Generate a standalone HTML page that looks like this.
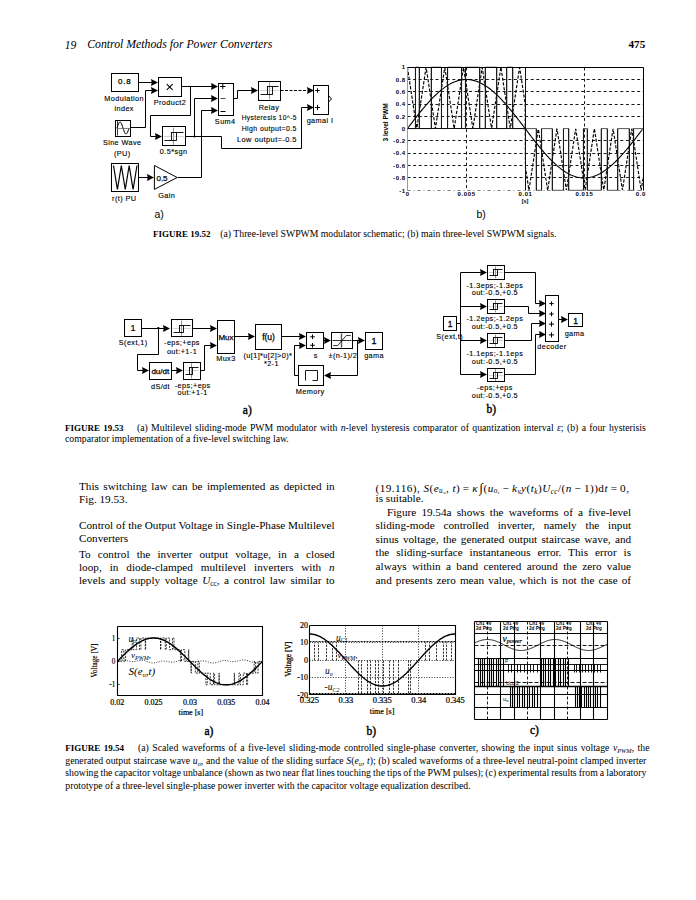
<!DOCTYPE html>
<html><head><meta charset="utf-8"><style>
html,body{margin:0;padding:0;background:#fff;}
body{width:696px;height:900px;position:relative;overflow:hidden;}
.t{position:absolute;white-space:nowrap;line-height:1;color:#000;}
.t sub{font-size:0.65em;vertical-align:-0.25em;line-height:0;}
svg{position:absolute;left:0;top:0;}
</style></head><body>
<svg width="696" height="900" viewBox="0 0 696 900">
<rect x="111.5" y="73.5" width="27" height="18" fill="none" stroke="#000" stroke-width="1"/>
<text x="124.7" y="83.8" font-size="8" text-anchor="middle" font-family='"Liberation Sans", sans-serif' font-weight="normal" stroke="#000" stroke-width="0.25" letter-spacing="0.8" style="">0.8</text>
<rect x="158.5" y="77.5" width="23" height="19" fill="none" stroke="#000" stroke-width="1"/>
<path d="M166.8 84.2 L172.6 89.8" fill="none" stroke="#000" stroke-width="1.1" />
<path d="M172.6 84.2 L166.8 89.8" fill="none" stroke="#000" stroke-width="1.1" />
<rect x="115.5" y="120.5" width="15" height="16" fill="none" stroke="#000" stroke-width="1"/>
<path d="M117 128 L117.5 126.45 L118 125 L118.5 123.76 L119 122.8 L119.5 122.2 L120 122 L120.5 122.2 L121 122.8 L121.5 123.76 L122 125 L122.5 126.45 L123 128 L123.5 129.55 L124 131 L124.5 132.24 L125 133.2 L125.5 133.8 L126 134 L126.5 133.8 L127 133.2 L127.5 132.24 L128 131 L128.5 129.55 L129 128" fill="none" stroke="#000" stroke-width="1" />
<path d="M117.5 120.5 L117.5 135.5" fill="none" stroke="#000" stroke-width="0.8" />
<path d="M116.5 128.5 L130.5 128.5" fill="none" stroke="#666" stroke-width="0.8" />
<rect x="162.5" y="126.5" width="23" height="19" fill="none" stroke="#000" stroke-width="1"/>
<path d="M173.5 127.6 L173.5 144.9" fill="none" stroke="#777" stroke-width="0.8" />
<path d="M163.7 136.5 L184.1 136.5" fill="none" stroke="#bbb" stroke-width="0.6" />
<rect x="171.5" y="132.5" width="5" height="8" fill="none" stroke="#000" stroke-width="0.9"/>
<path d="M176.5 132.5 L183.5 132.5" fill="none" stroke="#000" stroke-width="0.9" />
<path d="M164.5 140.5 L171.5 140.5" fill="none" stroke="#000" stroke-width="0.9" />
<rect x="111.5" y="163.5" width="27" height="28" fill="none" stroke="#000" stroke-width="1"/>
<path d="M113.5 165.5 L117.42 189.5 L121.33 165.5 L125.25 189.5 L129.17 165.5 L133.08 189.5 L137 165.5" fill="none" stroke="#000" stroke-width="1.2" />
<path d="M154.4 165.5 L154.4 189.4 L177.2 177.5 Z" fill="none" stroke="#000" stroke-width="1"/>
<text x="162" y="180.5" font-size="8" text-anchor="middle" font-family='"Liberation Sans", sans-serif' font-weight="normal" stroke="#000" stroke-width="0.25" style="">0.5</text>
<rect x="218.5" y="83.5" width="15" height="32" fill="none" stroke="#000" stroke-width="1"/>
<path d="M220.2 86.5 L225.4 86.5" fill="none" stroke="#000" stroke-width="1" />
<path d="M222.8 83.9 L222.8 89.1" fill="none" stroke="#000" stroke-width="1" />
<path d="M220.5 98.5 L225.5 98.5" fill="none" stroke="#555" stroke-width="1.1" />
<path d="M220.5 111.5 L225.5 111.5" fill="none" stroke="#000" stroke-width="1" />
<rect x="258.5" y="81.5" width="22" height="19" fill="none" stroke="#000" stroke-width="1"/>
<path d="M269.5 82.3 L269.5 99.4" fill="none" stroke="#777" stroke-width="0.8" />
<path d="M259.5 90.5 L279.3 90.5" fill="none" stroke="#bbb" stroke-width="0.6" />
<rect x="267.5" y="86.5" width="5" height="8" fill="none" stroke="#000" stroke-width="0.9"/>
<path d="M272.5 86.5 L278.5 86.5" fill="none" stroke="#000" stroke-width="0.9" />
<path d="M260.5 94.5 L267.5 94.5" fill="none" stroke="#000" stroke-width="0.9" />
<rect x="313.5" y="85.5" width="15" height="29" fill="none" stroke="#000" stroke-width="1"/>
<path d="M315.3 90.5 L319.7 90.5" fill="none" stroke="#000" stroke-width="1" />
<path d="M317.5 88.3 L317.5 92.7" fill="none" stroke="#000" stroke-width="1" />
<path d="M314.9 107.5 L320.1 107.5" fill="none" stroke="#000" stroke-width="1" />
<path d="M317.5 104.9 L317.5 110.1" fill="none" stroke="#000" stroke-width="1" />
<path d="M328.5 95.5 L331.5 99 L328.5 102" fill="none" stroke="#000" stroke-width="1"/>
<path d="M138.5 82.5 L153.5 82.5" fill="none" stroke="#000" stroke-width="1" />
<path d="M158 82.5 L151 79 L151.7 82.5 L151 86 Z" fill="#000"/>
<path d="M130.5 127.5 L145.5 127.5 L145.5 90.5 L153.5 90.5" fill="none" stroke="#000" stroke-width="1" />
<path d="M158 90.5 L151 87 L151.7 90.5 L151 94 Z" fill="#000"/>
<path d="M181.5 86.5 L213.5 86.5" fill="none" stroke="#000" stroke-width="1" />
<path d="M218 86.5 L211 83 L211.7 86.5 L211 90 Z" fill="#000"/>
<path d="M190.5 86.5 L190.5 115.5 L150.5 115.5 L150.5 136.5 L157.5 136.5" fill="none" stroke="#000" stroke-width="1" />
<path d="M162 136.5 L155 133 L155.7 136.5 L155 140 Z" fill="#000"/>
<path d="M185.5 136.5 L221.5 136.5 L221.5 148.5 L301.5 148.5 L301.5 107.5 L308.5 107.5" fill="none" stroke="#000" stroke-width="1" />
<path d="M314 107.5 L307 104 L307.7 107.5 L307 111 Z" fill="#000"/>
<path d="M194.5 136.5 L194.5 98.5 L213.5 98.5" fill="none" stroke="#000" stroke-width="1" />
<path d="M218 98.5 L211 95 L211.7 98.5 L211 102 Z" fill="#000"/>
<circle cx="194.5" cy="136.5" r="1.1" fill="#000"/>
<path d="M177.5 177.5 L201.5 177.5 L201.5 110.5 L213.5 110.5" fill="none" stroke="#000" stroke-width="1" />
<path d="M218 110.5 L211 107 L211.7 110.5 L211 114 Z" fill="#000"/>
<path d="M138.5 177.5 L149.5 177.5" fill="none" stroke="#000" stroke-width="1" />
<path d="M154 177.5 L147 174 L147.7 177.5 L147 181 Z" fill="#000"/>
<path d="M233.5 98.5 L237.5 98.5 L237.5 90.5 L253.5 90.5" fill="none" stroke="#000" stroke-width="1" />
<path d="M258 90.5 L251 87 L251.7 90.5 L251 94 Z" fill="#000"/>
<path d="M280.5 90.5 L308.5 90.5" fill="none" stroke="#000" stroke-width="1" stroke-dasharray="3 1.5" />
<path d="M314 90.5 L307 87 L307.7 90.5 L307 94 Z" fill="#000"/>
<text x="124.2" y="100.5" font-size="7.3" text-anchor="middle" font-family='"Liberation Sans", sans-serif' font-weight="normal"  letter-spacing="0.4" stroke="#000" stroke-width="0.12" style="">Modulation</text>
<text x="124.2" y="110.8" font-size="7.3" text-anchor="middle" font-family='"Liberation Sans", sans-serif' font-weight="normal"  letter-spacing="0.4" stroke="#000" stroke-width="0.12" style="">index</text>
<text x="169.9" y="105.2" font-size="7.3" text-anchor="middle" font-family='"Liberation Sans", sans-serif' font-weight="normal"  letter-spacing="0.4" stroke="#000" stroke-width="0.12" style="">Product2</text>
<text x="122.2" y="145" font-size="7.3" text-anchor="middle" font-family='"Liberation Sans", sans-serif' font-weight="normal"  letter-spacing="0.4" stroke="#000" stroke-width="0.12" style="">Sine Wave</text>
<text x="122.2" y="155.8" font-size="7.3" text-anchor="middle" font-family='"Liberation Sans", sans-serif' font-weight="normal"  letter-spacing="0.4" stroke="#000" stroke-width="0.12" style="">(PU)</text>
<text x="173.6" y="154.3" font-size="7.3" text-anchor="middle" font-family='"Liberation Sans", sans-serif' font-weight="normal"  letter-spacing="0.4" stroke="#000" stroke-width="0.12" style="">0.5*sgn</text>
<text x="124.2" y="201" font-size="7.3" text-anchor="middle" font-family='"Liberation Sans", sans-serif' font-weight="normal"  letter-spacing="0.4" stroke="#000" stroke-width="0.12" style="">r(t) PU</text>
<text x="166.7" y="198.2" font-size="7.3" text-anchor="middle" font-family='"Liberation Sans", sans-serif' font-weight="normal"  letter-spacing="0.4" stroke="#000" stroke-width="0.12" style="">Gain</text>
<text x="225.2" y="124.4" font-size="7.3" text-anchor="middle" font-family='"Liberation Sans", sans-serif' font-weight="normal"  letter-spacing="0.4" stroke="#000" stroke-width="0.12" style="">Sum4</text>
<text x="269" y="109.8" font-size="7.3" text-anchor="middle" font-family='"Liberation Sans", sans-serif' font-weight="normal"  letter-spacing="0.4" stroke="#000" stroke-width="0.12" style="">Relay</text>
<text x="241.7" y="120.2" font-size="7.3" text-anchor="start" font-family='"Liberation Sans", sans-serif' font-weight="normal" textLength="55.2" lengthAdjust="spacingAndGlyphs" letter-spacing="0.4" stroke="#000" stroke-width="0.12" style="">Hysteresis 10^-5</text>
<text x="241.7" y="131.3" font-size="7.3" text-anchor="start" font-family='"Liberation Sans", sans-serif' font-weight="normal" textLength="55.2" lengthAdjust="spacingAndGlyphs" letter-spacing="0.4" stroke="#000" stroke-width="0.12" style="">High output=0.5</text>
<text x="237" y="142" font-size="7.3" text-anchor="start" font-family='"Liberation Sans", sans-serif' font-weight="normal" textLength="59.9" lengthAdjust="spacingAndGlyphs" letter-spacing="0.4" stroke="#000" stroke-width="0.12" style="">Low output=-0.5</text>
<text x="320" y="122.9" font-size="7.3" text-anchor="middle" font-family='"Liberation Sans", sans-serif' font-weight="normal"  letter-spacing="0.4" stroke="#000" stroke-width="0.12" style="">gamal I</text>
<text x="154.5" y="217.8" font-size="10.5" text-anchor="start" font-family='"Liberation Sans", sans-serif' font-weight="normal"  style="">a)</text>
<path d="M407.5 79.5 L643.5 79.5" fill="none" stroke="#000" stroke-width="0.9" stroke-dasharray="3 2.6" />
<path d="M407.5 91.5 L643.5 91.5" fill="none" stroke="#000" stroke-width="0.9" stroke-dasharray="3 2.6" />
<path d="M407.5 104.5 L643.5 104.5" fill="none" stroke="#000" stroke-width="0.9" stroke-dasharray="3 2.6" />
<path d="M407.5 116.5 L643.5 116.5" fill="none" stroke="#000" stroke-width="0.9" stroke-dasharray="3 2.6" />
<path d="M407.5 140.5 L643.5 140.5" fill="none" stroke="#000" stroke-width="0.9" stroke-dasharray="3 2.6" />
<path d="M407.5 153.5 L643.5 153.5" fill="none" stroke="#000" stroke-width="0.9" stroke-dasharray="3 2.6" />
<path d="M407.5 165.5 L643.5 165.5" fill="none" stroke="#000" stroke-width="0.9" stroke-dasharray="3 2.6" />
<path d="M407.5 177.5 L643.5 177.5" fill="none" stroke="#000" stroke-width="0.9" stroke-dasharray="3 2.6" />
<path d="M466.5 67.5 L466.5 190.5" fill="none" stroke="#000" stroke-width="0.9" stroke-dasharray="3 2.6" />
<path d="M525.5 67.5 L525.5 190.5" fill="none" stroke="#000" stroke-width="0.9" stroke-dasharray="3 2.6" />
<path d="M584.5 67.5 L584.5 190.5" fill="none" stroke="#000" stroke-width="0.9" stroke-dasharray="3 2.6" />
<path d="M407.4 67.2 L407.65 68.84 L407.9 70.48 L408.15 72.13 L408.4 73.77 L408.65 75.41 L408.9 77.05 L409.15 78.69 L409.4 80.33 L409.65 81.98 L409.9 83.62 L410.15 85.26 L410.4 86.9 L410.65 88.54 L410.9 90.18 L411.15 91.83 L411.4 93.47 L411.65 95.11 L411.9 96.75 L412.15 98.39 L412.4 100.03 L412.65 101.68 L412.9 103.32 L413.15 104.96 L413.4 106.6 L413.65 108.24 L413.9 109.88 L414.15 111.53 L414.4 113.17 L414.65 114.81 L414.9 116.45 L415.15 118.09 L415.4 119.73 L415.65 121.38 L415.9 123.02 L416.15 124.66 L416.4 126.3 L416.65 127.94 L416.9 127.61 L417.15 125.97 L417.4 124.33 L417.65 122.69 L417.9 121.05 L418.15 119.41 L418.4 117.76 L418.65 116.12 L418.9 114.48 L419.15 112.84 L419.4 111.2 L419.65 109.56 L419.9 107.91 L420.15 106.27 L420.4 104.63 L420.65 102.99 L420.9 101.35 L421.15 99.71 L421.4 98.06 L421.65 96.42 L421.9 94.78 L422.15 93.14 L422.4 91.5 L422.65 89.86 L422.9 88.21 L423.15 86.57 L423.4 84.93 L423.65 83.29 L423.9 81.65 L424.15 80.01 L424.4 78.36 L424.65 76.72 L424.9 75.08 L425.15 73.44 L425.4 71.8 L425.65 70.16 L425.9 68.51 L426.15 67.53 L426.4 69.17 L426.65 70.81 L426.9 72.45 L427.15 74.1 L427.4 75.74 L427.65 77.38 L427.9 79.02 L428.15 80.66 L428.4 82.3 L428.65 83.95 L428.9 85.59 L429.15 87.23 L429.4 88.87 L429.65 90.51 L429.9 92.15 L430.15 93.8 L430.4 95.44 L430.65 97.08 L430.9 98.72 L431.15 100.36 L431.4 102 L431.65 103.65 L431.9 105.29 L432.15 106.93 L432.4 108.57 L432.65 110.21 L432.9 111.85 L433.15 113.5 L433.4 115.14 L433.65 116.78 L433.9 118.42 L434.15 120.06 L434.4 121.7 L434.65 123.35 L434.9 124.99 L435.15 126.63 L435.4 128.27 L435.65 127.29 L435.9 125.64 L436.15 124 L436.4 122.36 L436.65 120.72 L436.9 119.08 L437.15 117.44 L437.4 115.79 L437.65 114.15 L437.9 112.51 L438.15 110.87 L438.4 109.23 L438.65 107.59 L438.9 105.94 L439.15 104.3 L439.4 102.66 L439.65 101.02 L439.9 99.38 L440.15 97.74 L440.4 96.09 L440.65 94.45 L440.9 92.81 L441.15 91.17 L441.4 89.53 L441.65 87.89 L441.9 86.24 L442.15 84.6 L442.4 82.96 L442.65 81.32 L442.9 79.68 L443.15 78.04 L443.4 76.39 L443.65 74.75 L443.9 73.11 L444.15 71.47 L444.4 69.83 L444.65 68.19 L444.9 67.86 L445.15 69.5 L445.4 71.14 L445.65 72.78 L445.9 74.42 L446.15 76.07 L446.4 77.71 L446.65 79.35 L446.9 80.99 L447.15 82.63 L447.4 84.27 L447.65 85.92 L447.9 87.56 L448.15 89.2 L448.4 90.84 L448.65 92.48 L448.9 94.12 L449.15 95.77 L449.4 97.41 L449.65 99.05 L449.9 100.69 L450.15 102.33 L450.4 103.97 L450.65 105.62 L450.9 107.26 L451.15 108.9 L451.4 110.54 L451.65 112.18 L451.9 113.82 L452.15 115.47 L452.4 117.11 L452.65 118.75 L452.9 120.39 L453.15 122.03 L453.4 123.67 L453.65 125.32 L453.9 126.96 L454.15 128.6 L454.4 126.96 L454.65 125.32 L454.9 123.67 L455.15 122.03 L455.4 120.39 L455.65 118.75 L455.9 117.11 L456.15 115.47 L456.4 113.82 L456.65 112.18 L456.9 110.54 L457.15 108.9 L457.4 107.26 L457.65 105.62 L457.9 103.97 L458.15 102.33 L458.4 100.69 L458.65 99.05 L458.9 97.41 L459.15 95.77 L459.4 94.12 L459.65 92.48 L459.9 90.84 L460.15 89.2 L460.4 87.56 L460.65 85.92 L460.9 84.27 L461.15 82.63 L461.4 80.99 L461.65 79.35 L461.9 77.71 L462.15 76.07 L462.4 74.42 L462.65 72.78 L462.9 71.14 L463.15 69.5 L463.4 67.86 L463.65 68.19 L463.9 69.83 L464.15 71.47 L464.4 73.11 L464.65 74.75 L464.9 76.39 L465.15 78.04 L465.4 79.68 L465.65 81.32 L465.9 82.96 L466.15 84.6 L466.4 86.24 L466.65 87.89 L466.9 89.53 L467.15 91.17 L467.4 92.81 L467.65 94.45 L467.9 96.09 L468.15 97.74 L468.4 99.38 L468.65 101.02 L468.9 102.66 L469.15 104.3 L469.4 105.94 L469.65 107.59 L469.9 109.23 L470.15 110.87 L470.4 112.51 L470.65 114.15 L470.9 115.79 L471.15 117.44 L471.4 119.08 L471.65 120.72 L471.9 122.36 L472.15 124 L472.4 125.64 L472.65 127.29 L472.9 128.27 L473.15 126.63 L473.4 124.99 L473.65 123.35 L473.9 121.7 L474.15 120.06 L474.4 118.42 L474.65 116.78 L474.9 115.14 L475.15 113.5 L475.4 111.85 L475.65 110.21 L475.9 108.57 L476.15 106.93 L476.4 105.29 L476.65 103.65 L476.9 102 L477.15 100.36 L477.4 98.72 L477.65 97.08 L477.9 95.44 L478.15 93.8 L478.4 92.15 L478.65 90.51 L478.9 88.87 L479.15 87.23 L479.4 85.59 L479.65 83.95 L479.9 82.3 L480.15 80.66 L480.4 79.02 L480.65 77.38 L480.9 75.74 L481.15 74.1 L481.4 72.45 L481.65 70.81 L481.9 69.17 L482.15 67.53 L482.4 68.51 L482.65 70.16 L482.9 71.8 L483.15 73.44 L483.4 75.08 L483.65 76.72 L483.9 78.36 L484.15 80.01 L484.4 81.65 L484.65 83.29 L484.9 84.93 L485.15 86.57 L485.4 88.21 L485.65 89.86 L485.9 91.5 L486.15 93.14 L486.4 94.78 L486.65 96.42 L486.9 98.06 L487.15 99.71 L487.4 101.35 L487.65 102.99 L487.9 104.63 L488.15 106.27 L488.4 107.91 L488.65 109.56 L488.9 111.2 L489.15 112.84 L489.4 114.48 L489.65 116.12 L489.9 117.76 L490.15 119.41 L490.4 121.05 L490.65 122.69 L490.9 124.33 L491.15 125.97 L491.4 127.61 L491.65 127.94 L491.9 126.3 L492.15 124.66 L492.4 123.02 L492.65 121.38 L492.9 119.73 L493.15 118.09 L493.4 116.45 L493.65 114.81 L493.9 113.17 L494.15 111.53 L494.4 109.88 L494.65 108.24 L494.9 106.6 L495.15 104.96 L495.4 103.32 L495.65 101.68 L495.9 100.03 L496.15 98.39 L496.4 96.75 L496.65 95.11 L496.9 93.47 L497.15 91.83 L497.4 90.18 L497.65 88.54 L497.9 86.9 L498.15 85.26 L498.4 83.62 L498.65 81.98 L498.9 80.33 L499.15 78.69 L499.4 77.05 L499.65 75.41 L499.9 73.77 L500.15 72.13 L500.4 70.48 L500.65 68.84 L500.9 67.2 L501.15 68.84 L501.4 70.48 L501.65 72.13 L501.9 73.77 L502.15 75.41 L502.4 77.05 L502.65 78.69 L502.9 80.33 L503.15 81.98 L503.4 83.62 L503.65 85.26 L503.9 86.9 L504.15 88.54 L504.4 90.18 L504.65 91.83 L504.9 93.47 L505.15 95.11 L505.4 96.75 L505.65 98.39 L505.9 100.03 L506.15 101.68 L506.4 103.32 L506.65 104.96 L506.9 106.6 L507.15 108.24 L507.4 109.88 L507.65 111.53 L507.9 113.17 L508.15 114.81 L508.4 116.45 L508.65 118.09 L508.9 119.73 L509.15 121.38 L509.4 123.02 L509.65 124.66 L509.9 126.3 L510.15 127.94 L510.4 127.61 L510.65 125.97 L510.9 124.33 L511.15 122.69 L511.4 121.05 L511.65 119.41 L511.9 117.76 L512.15 116.12 L512.4 114.48 L512.65 112.84 L512.9 111.2 L513.15 109.56 L513.4 107.91 L513.65 106.27 L513.9 104.63 L514.15 102.99 L514.4 101.35 L514.65 99.71 L514.9 98.06 L515.15 96.42 L515.4 94.78 L515.65 93.14 L515.9 91.5 L516.15 89.86 L516.4 88.21 L516.65 86.57 L516.9 84.93 L517.15 83.29 L517.4 81.65 L517.65 80.01 L517.9 78.36 L518.15 76.72 L518.4 75.08 L518.65 73.44 L518.9 71.8 L519.15 70.16 L519.4 68.51 L519.65 67.53 L519.9 69.17 L520.15 70.81 L520.4 72.45 L520.65 74.1 L520.9 75.74 L521.15 77.38 L521.4 79.02 L521.65 80.66 L521.9 82.3 L522.15 83.95 L522.4 85.59 L522.65 87.23 L522.9 88.87 L523.15 90.51 L523.4 92.15 L523.65 93.8 L523.9 95.44 L524.15 97.08 L524.4 98.72 L524.65 100.36 L524.9 102 L525.15 103.65 L525.4 166.87 L525.65 168.52 L525.9 170.17 L526.15 171.82 L526.4 173.47 L526.65 175.12 L526.9 176.77 L527.15 178.42 L527.4 180.07 L527.65 181.72 L527.9 183.37 L528.15 185.02 L528.4 186.67 L528.65 188.32 L528.9 189.97 L529.15 188.98 L529.4 187.33 L529.65 185.68 L529.9 184.03 L530.15 182.38 L530.4 180.73 L530.65 179.08 L530.9 177.43 L531.15 175.78 L531.4 174.13 L531.65 172.48 L531.9 170.83 L532.15 169.18 L532.4 167.53 L532.65 165.88 L532.9 164.23 L533.15 162.58 L533.4 160.93 L533.65 159.29 L533.9 157.64 L534.15 155.99 L534.4 154.34 L534.65 152.69 L534.9 151.04 L535.15 149.39 L535.4 147.74 L535.65 146.09 L535.9 144.44 L536.15 142.79 L536.4 141.14 L536.65 139.49 L536.9 137.84 L537.15 136.19 L537.4 134.54 L537.65 132.89 L537.9 131.24 L538.15 129.59 L538.4 129.26 L538.65 130.91 L538.9 132.56 L539.15 134.21 L539.4 135.86 L539.65 137.51 L539.9 139.16 L540.15 140.81 L540.4 142.46 L540.65 144.11 L540.9 145.76 L541.15 147.41 L541.4 149.06 L541.65 150.71 L541.9 152.36 L542.15 154.01 L542.4 155.66 L542.65 157.31 L542.9 158.96 L543.15 160.6 L543.4 162.25 L543.65 163.9 L543.9 165.55 L544.15 167.2 L544.4 168.85 L544.65 170.5 L544.9 172.15 L545.15 173.8 L545.4 175.45 L545.65 177.1 L545.9 178.75 L546.15 180.4 L546.4 182.05 L546.65 183.7 L546.9 185.35 L547.15 187 L547.4 188.65 L547.65 190.3 L547.9 188.65 L548.15 187 L548.4 185.35 L548.65 183.7 L548.9 182.05 L549.15 180.4 L549.4 178.75 L549.65 177.1 L549.9 175.45 L550.15 173.8 L550.4 172.15 L550.65 170.5 L550.9 168.85 L551.15 167.2 L551.4 165.55 L551.65 163.9 L551.9 162.25 L552.15 160.6 L552.4 158.96 L552.65 157.31 L552.9 155.66 L553.15 154.01 L553.4 152.36 L553.65 150.71 L553.9 149.06 L554.15 147.41 L554.4 145.76 L554.65 144.11 L554.9 142.46 L555.15 140.81 L555.4 139.16 L555.65 137.51 L555.9 135.86 L556.15 134.21 L556.4 132.56 L556.65 130.91 L556.9 129.26 L557.15 129.59 L557.4 131.24 L557.65 132.89 L557.9 134.54 L558.15 136.19 L558.4 137.84 L558.65 139.49 L558.9 141.14 L559.15 142.79 L559.4 144.44 L559.65 146.09 L559.9 147.74 L560.15 149.39 L560.4 151.04 L560.65 152.69 L560.9 154.34 L561.15 155.99 L561.4 157.64 L561.65 159.29 L561.9 160.93 L562.15 162.58 L562.4 164.23 L562.65 165.88 L562.9 167.53 L563.15 169.18 L563.4 170.83 L563.65 172.48 L563.9 174.13 L564.15 175.78 L564.4 177.43 L564.65 179.08 L564.9 180.73 L565.15 182.38 L565.4 184.03 L565.65 185.68 L565.9 187.33 L566.15 188.98 L566.4 189.97 L566.65 188.32 L566.9 186.67 L567.15 185.02 L567.4 183.37 L567.65 181.72 L567.9 180.07 L568.15 178.42 L568.4 176.77 L568.65 175.12 L568.9 173.47 L569.15 171.82 L569.4 170.17 L569.65 168.52 L569.9 166.87 L570.15 165.22 L570.4 163.57 L570.65 161.92 L570.9 160.27 L571.15 158.63 L571.4 156.98 L571.65 155.33 L571.9 153.68 L572.15 152.03 L572.4 150.38 L572.65 148.73 L572.9 147.08 L573.15 145.43 L573.4 143.78 L573.65 142.13 L573.9 140.48 L574.15 138.83 L574.4 137.18 L574.65 135.53 L574.9 133.88 L575.15 132.23 L575.4 130.58 L575.65 128.93 L575.9 129.92 L576.15 131.57 L576.4 133.22 L576.65 134.87 L576.9 136.52 L577.15 138.17 L577.4 139.82 L577.65 141.47 L577.9 143.12 L578.15 144.77 L578.4 146.42 L578.65 148.07 L578.9 149.72 L579.15 151.37 L579.4 153.02 L579.65 154.67 L579.9 156.32 L580.15 157.97 L580.4 159.61 L580.65 161.26 L580.9 162.91 L581.15 164.56 L581.4 166.21 L581.65 167.86 L581.9 169.51 L582.15 171.16 L582.4 172.81 L582.65 174.46 L582.9 176.11 L583.15 177.76 L583.4 179.41 L583.65 181.06 L583.9 182.71 L584.15 184.36 L584.4 186.01 L584.65 187.66 L584.9 189.31 L585.15 189.64 L585.4 187.99 L585.65 186.34 L585.9 184.69 L586.15 183.04 L586.4 181.39 L586.65 179.74 L586.9 178.09 L587.15 176.44 L587.4 174.79 L587.65 173.14 L587.9 171.49 L588.15 169.84 L588.4 168.19 L588.65 166.54 L588.9 164.89 L589.15 163.24 L589.4 161.59 L589.65 159.94 L589.9 158.3 L590.15 156.65 L590.4 155 L590.65 153.35 L590.9 151.7 L591.15 150.05 L591.4 148.4 L591.65 146.75 L591.9 145.1 L592.15 143.45 L592.4 141.8 L592.65 140.15 L592.9 138.5 L593.15 136.85 L593.4 135.2 L593.65 133.55 L593.9 131.9 L594.15 130.25 L594.4 128.6 L594.65 130.25 L594.9 131.9 L595.15 133.55 L595.4 135.2 L595.65 136.85 L595.9 138.5 L596.15 140.15 L596.4 141.8 L596.65 143.45 L596.9 145.1 L597.15 146.75 L597.4 148.4 L597.65 150.05 L597.9 151.7 L598.15 153.35 L598.4 155 L598.65 156.65 L598.9 158.3 L599.15 159.94 L599.4 161.59 L599.65 163.24 L599.9 164.89 L600.15 166.54 L600.4 168.19 L600.65 169.84 L600.9 171.49 L601.15 173.14 L601.4 174.79 L601.65 176.44 L601.9 178.09 L602.15 179.74 L602.4 181.39 L602.65 183.04 L602.9 184.69 L603.15 186.34 L603.4 187.99 L603.65 189.64 L603.9 189.31 L604.15 187.66 L604.4 186.01 L604.65 184.36 L604.9 182.71 L605.15 181.06 L605.4 179.41 L605.65 177.76 L605.9 176.11 L606.15 174.46 L606.4 172.81 L606.65 171.16 L606.9 169.51 L607.15 167.86 L607.4 166.21 L607.65 164.56 L607.9 162.91 L608.15 161.26 L608.4 159.61 L608.65 157.97 L608.9 156.32 L609.15 154.67 L609.4 153.02 L609.65 151.37 L609.9 149.72 L610.15 148.07 L610.4 146.42 L610.65 144.77 L610.9 143.12 L611.15 141.47 L611.4 139.82 L611.65 138.17 L611.9 136.52 L612.15 134.87 L612.4 133.22 L612.65 131.57 L612.9 129.92 L613.15 128.93 L613.4 130.58 L613.65 132.23 L613.9 133.88 L614.15 135.53 L614.4 137.18 L614.65 138.83 L614.9 140.48 L615.15 142.13 L615.4 143.78 L615.65 145.43 L615.9 147.08 L616.15 148.73 L616.4 150.38 L616.65 152.03 L616.9 153.68 L617.15 155.33 L617.4 156.98 L617.65 158.63 L617.9 160.27 L618.15 161.92 L618.4 163.57 L618.65 165.22 L618.9 166.87 L619.15 168.52 L619.4 170.17 L619.65 171.82 L619.9 173.47 L620.15 175.12 L620.4 176.77 L620.65 178.42 L620.9 180.07 L621.15 181.72 L621.4 183.37 L621.65 185.02 L621.9 186.67 L622.15 188.32 L622.4 189.97 L622.65 188.98 L622.9 187.33 L623.15 185.68 L623.4 184.03 L623.65 182.38 L623.9 180.73 L624.15 179.08 L624.4 177.43 L624.65 175.78 L624.9 174.13 L625.15 172.48 L625.4 170.83 L625.65 169.18 L625.9 167.53 L626.15 165.88 L626.4 164.23 L626.65 162.58 L626.9 160.93 L627.15 159.29 L627.4 157.64 L627.65 155.99 L627.9 154.34 L628.15 152.69 L628.4 151.04 L628.65 149.39 L628.9 147.74 L629.15 146.09 L629.4 144.44 L629.65 142.79 L629.9 141.14 L630.15 139.49 L630.4 137.84 L630.65 136.19 L630.9 134.54 L631.15 132.89 L631.4 131.24 L631.65 129.59 L631.9 129.26 L632.15 130.91 L632.4 132.56 L632.65 134.21 L632.9 135.86 L633.15 137.51 L633.4 139.16 L633.65 140.81 L633.9 142.46 L634.15 144.11 L634.4 145.76 L634.65 147.41 L634.9 149.06 L635.15 150.71 L635.4 152.36 L635.65 154.01 L635.9 155.66 L636.15 157.31 L636.4 158.96 L636.65 160.6 L636.9 162.25 L637.15 163.9 L637.4 165.55 L637.65 167.2 L637.9 168.85 L638.15 170.5 L638.4 172.15 L638.65 173.8 L638.9 175.45 L639.15 177.1 L639.4 178.75 L639.65 180.4 L639.9 182.05 L640.15 183.7 L640.4 185.35 L640.65 187 L640.9 188.65 L641.15 190.3 L641.4 188.65 L641.65 187 L641.9 185.35 L642.15 183.7 L642.4 182.05 L642.65 180.4 L642.9 178.75" fill="none" stroke="#000" stroke-width="1.15" stroke-dasharray="3.2 1.6" />
<path d="M407.4 128.6 L415.4 128.6 L415.4 67.2 L419.15 67.2 L419.15 128.6 L431.15 128.6 L431.15 67.2 L441.4 67.2 L441.4 128.6 L447.65 128.6 L447.65 67.2 L461.65 67.2 L461.65 128.6 L465.4 128.6 L465.4 67.2 L479.9 67.2 L479.9 128.6 L485.15 128.6 L485.15 67.2 L496.9 67.2 L496.9 128.6 L506.9 128.6 L506.9 67.2 L512.9 67.2 L512.9 128.6 L536.15 128.6 L536.15 190.3 L541.65 190.3 L541.65 128.6 L552.15 128.6 L552.15 190.3 L563.4 190.3 L563.4 128.6 L568.9 128.6 L568.9 190.3 L583.4 190.3 L583.4 128.6 L587.15 128.6 L587.15 190.3 L601.15 190.3 L601.15 128.6 L607.15 128.6 L607.15 190.3 L617.9 190.3 L617.9 128.6 L629.15 128.6 L629.15 190.3 L633.65 190.3 L633.65 128.6 L643 128.6" fill="none" stroke="#444" stroke-width="0.9"/>
<path d="M415.5 128.6 L415.5 67.2" fill="none" stroke="#111" stroke-width="0.9" />
<path d="M419.5 67.2 L419.5 128.6" fill="none" stroke="#111" stroke-width="0.9" />
<path d="M431.5 128.6 L431.5 67.2" fill="none" stroke="#111" stroke-width="0.9" />
<path d="M441.5 67.2 L441.5 128.6" fill="none" stroke="#111" stroke-width="0.9" />
<path d="M447.5 128.6 L447.5 67.2" fill="none" stroke="#111" stroke-width="0.9" />
<path d="M461.5 67.2 L461.5 128.6" fill="none" stroke="#111" stroke-width="0.9" />
<path d="M465.5 128.6 L465.5 67.2" fill="none" stroke="#111" stroke-width="0.9" />
<path d="M479.5 67.2 L479.5 128.6" fill="none" stroke="#111" stroke-width="0.9" />
<path d="M485.5 128.6 L485.5 67.2" fill="none" stroke="#111" stroke-width="0.9" />
<path d="M496.5 67.2 L496.5 128.6" fill="none" stroke="#111" stroke-width="0.9" />
<path d="M506.5 128.6 L506.5 67.2" fill="none" stroke="#111" stroke-width="0.9" />
<path d="M512.5 67.2 L512.5 128.6" fill="none" stroke="#111" stroke-width="0.9" />
<path d="M536.5 128.6 L536.5 190.3" fill="none" stroke="#111" stroke-width="0.9" />
<path d="M541.5 190.3 L541.5 128.6" fill="none" stroke="#111" stroke-width="0.9" />
<path d="M552.5 128.6 L552.5 190.3" fill="none" stroke="#111" stroke-width="0.9" />
<path d="M563.5 190.3 L563.5 128.6" fill="none" stroke="#111" stroke-width="0.9" />
<path d="M568.5 128.6 L568.5 190.3" fill="none" stroke="#111" stroke-width="0.9" />
<path d="M583.5 190.3 L583.5 128.6" fill="none" stroke="#111" stroke-width="0.9" />
<path d="M587.5 128.6 L587.5 190.3" fill="none" stroke="#111" stroke-width="0.9" />
<path d="M601.5 190.3 L601.5 128.6" fill="none" stroke="#111" stroke-width="0.9" />
<path d="M607.5 128.6 L607.5 190.3" fill="none" stroke="#111" stroke-width="0.9" />
<path d="M617.5 190.3 L617.5 128.6" fill="none" stroke="#111" stroke-width="0.9" />
<path d="M629.5 128.6 L629.5 190.3" fill="none" stroke="#111" stroke-width="0.9" />
<path d="M633.5 190.3 L633.5 128.6" fill="none" stroke="#111" stroke-width="0.9" />
<path d="M407.4 128.6 L408.4 127.29 L409.4 125.98 L410.4 124.67 L411.4 123.37 L412.4 122.07 L413.4 120.77 L414.4 119.48 L415.4 118.2 L416.4 116.92 L417.4 115.65 L418.4 114.4 L419.4 113.15 L420.4 111.91 L421.4 110.68 L422.4 109.47 L423.4 108.27 L424.4 107.09 L425.4 105.92 L426.4 104.76 L427.4 103.63 L428.4 102.51 L429.4 101.41 L430.4 100.32 L431.4 99.26 L432.4 98.22 L433.4 97.21 L434.4 96.21 L435.4 95.24 L436.4 94.29 L437.4 93.36 L438.4 92.46 L439.4 91.59 L440.4 90.74 L441.4 89.92 L442.4 89.12 L443.4 88.36 L444.4 87.62 L445.4 86.91 L446.4 86.24 L447.4 85.59 L448.4 84.97 L449.4 84.39 L450.4 83.83 L451.4 83.31 L452.4 82.82 L453.4 82.36 L454.4 81.93 L455.4 81.54 L456.4 81.18 L457.4 80.86 L458.4 80.57 L459.4 80.31 L460.4 80.09 L461.4 79.9 L462.4 79.75 L463.4 79.63 L464.4 79.54 L465.4 79.49 L466.4 79.48 L467.4 79.5 L468.4 79.56 L469.4 79.65 L470.4 79.77 L471.4 79.93 L472.4 80.13 L473.4 80.36 L474.4 80.62 L475.4 80.92 L476.4 81.25 L477.4 81.62 L478.4 82.02 L479.4 82.45 L480.4 82.91 L481.4 83.41 L482.4 83.94 L483.4 84.5 L484.4 85.09 L485.4 85.72 L486.4 86.37 L487.4 87.05 L488.4 87.77 L489.4 88.51 L490.4 89.28 L491.4 90.08 L492.4 90.91 L493.4 91.76 L494.4 92.64 L495.4 93.54 L496.4 94.47 L497.4 95.43 L498.4 96.41 L499.4 97.41 L500.4 98.43 L501.4 99.47 L502.4 100.54 L503.4 101.62 L504.4 102.73 L505.4 103.85 L506.4 104.99 L507.4 106.15 L508.4 107.32 L509.4 108.51 L510.4 109.71 L511.4 110.93 L512.4 112.16 L513.4 113.4 L514.4 114.65 L515.4 115.91 L516.4 117.18 L517.4 118.46 L518.4 119.74 L519.4 121.03 L520.4 122.33 L521.4 123.63 L522.4 124.94 L523.4 126.24 L524.4 127.55 L525.4 128.86 L526.4 130.18 L527.4 131.49 L528.4 132.81 L529.4 134.12 L530.4 135.42 L531.4 136.72 L532.4 138.02 L533.4 139.31 L534.4 140.59 L535.4 141.86 L536.4 143.13 L537.4 144.38 L538.4 145.62 L539.4 146.85 L540.4 148.07 L541.4 149.27 L542.4 150.46 L543.4 151.63 L544.4 152.78 L545.4 153.92 L546.4 155.04 L547.4 156.15 L548.4 157.23 L549.4 158.29 L550.4 159.33 L551.4 160.35 L552.4 161.35 L553.4 162.32 L554.4 163.27 L555.4 164.19 L556.4 165.09 L557.4 165.97 L558.4 166.81 L559.4 167.63 L560.4 168.42 L561.4 169.19 L562.4 169.92 L563.4 170.63 L564.4 171.3 L565.4 171.95 L566.4 172.56 L567.4 173.14 L568.4 173.7 L569.4 174.22 L570.4 174.7 L571.4 175.16 L572.4 175.58 L573.4 175.96 L574.4 176.32 L575.4 176.64 L576.4 176.92 L577.4 177.17 L578.4 177.39 L579.4 177.57 L580.4 177.72 L581.4 177.83 L582.4 177.91 L583.4 177.95 L584.4 177.96 L585.4 177.93 L586.4 177.87 L587.4 177.77 L588.4 177.64 L589.4 177.47 L590.4 177.26 L591.4 177.03 L592.4 176.76 L593.4 176.45 L594.4 176.11 L595.4 175.74 L596.4 175.33 L597.4 174.89 L598.4 174.41 L599.4 173.91 L600.4 173.37 L601.4 172.8 L602.4 172.2 L603.4 171.56 L604.4 170.9 L605.4 170.21 L606.4 169.49 L607.4 168.73 L608.4 167.95 L609.4 167.14 L610.4 166.31 L611.4 165.45 L612.4 164.56 L613.4 163.64 L614.4 162.7 L615.4 161.74 L616.4 160.75 L617.4 159.74 L618.4 158.71 L619.4 157.66 L620.4 156.58 L621.4 155.49 L622.4 154.37 L623.4 153.24 L624.4 152.09 L625.4 150.93 L626.4 149.75 L627.4 148.55 L628.4 147.34 L629.4 146.11 L630.4 144.88 L631.4 143.63 L632.4 142.37 L633.4 141.1 L634.4 139.82 L635.4 138.54 L636.4 137.24 L637.4 135.94 L638.4 134.64 L639.4 133.33 L640.4 132.02 L641.4 130.71 L642.4 129.39" fill="none" stroke="#000" stroke-width="1.1" />
<path d="M407.5 67.5 L643.5 67.5 L643.5 190.5" fill="none" stroke="#000" stroke-width="1" />
<path d="M407.5 190.5 L643.5 190.5" fill="none" stroke="#777" stroke-width="1" stroke-dasharray="3 3 1 3" />
<path d="M407.5 67.5 L407.5 190.5" fill="none" stroke="#999" stroke-width="1" />
<path d="M407.5 128.5 L525.5 128.5" fill="none" stroke="#111" stroke-width="1" />
<path d="M525.5 67.5 L525.5 190.5" fill="none" stroke="#111" stroke-width="1" />
<text x="405.8" y="69.4" font-size="6" text-anchor="end" font-family='"Liberation Sans", sans-serif' font-weight="bold" letter-spacing="0.6" style="">1</text>
<text x="405.8" y="81.68" font-size="6" text-anchor="end" font-family='"Liberation Sans", sans-serif' font-weight="bold" letter-spacing="0.6" style="">0.8</text>
<text x="405.8" y="93.96" font-size="6" text-anchor="end" font-family='"Liberation Sans", sans-serif' font-weight="bold" letter-spacing="0.6" style="">0.6</text>
<text x="405.8" y="106.24" font-size="6" text-anchor="end" font-family='"Liberation Sans", sans-serif' font-weight="bold" letter-spacing="0.6" style="">0.4</text>
<text x="405.8" y="118.52" font-size="6" text-anchor="end" font-family='"Liberation Sans", sans-serif' font-weight="bold" letter-spacing="0.6" style="">0.2</text>
<text x="405.8" y="130.8" font-size="6" text-anchor="end" font-family='"Liberation Sans", sans-serif' font-weight="bold" letter-spacing="0.6" style="">0</text>
<text x="405.8" y="143.14" font-size="6" text-anchor="end" font-family='"Liberation Sans", sans-serif' font-weight="bold" letter-spacing="0.6" style="">-0.2</text>
<text x="405.8" y="155.48" font-size="6" text-anchor="end" font-family='"Liberation Sans", sans-serif' font-weight="bold" letter-spacing="0.6" style="">-0.4</text>
<text x="405.8" y="167.82" font-size="6" text-anchor="end" font-family='"Liberation Sans", sans-serif' font-weight="bold" letter-spacing="0.6" style="">-0.6</text>
<text x="405.8" y="180.16" font-size="6" text-anchor="end" font-family='"Liberation Sans", sans-serif' font-weight="bold" letter-spacing="0.6" style="">-0.8</text>
<text x="405.8" y="192.5" font-size="6" text-anchor="end" font-family='"Liberation Sans", sans-serif' font-weight="bold" letter-spacing="0.6" style="">-1</text>
<text x="407.7" y="195.8" font-size="6" text-anchor="middle" font-family='"Liberation Sans", sans-serif' font-weight="bold" letter-spacing="0.6" style="">0</text>
<text x="466.6" y="195.8" font-size="6" text-anchor="middle" font-family='"Liberation Sans", sans-serif' font-weight="bold" letter-spacing="0.6" style="">0.005</text>
<text x="525.5" y="195.8" font-size="6" text-anchor="middle" font-family='"Liberation Sans", sans-serif' font-weight="bold" letter-spacing="0.6" style="">0.01</text>
<text x="584.4" y="195.8" font-size="6" text-anchor="middle" font-family='"Liberation Sans", sans-serif' font-weight="bold" letter-spacing="0.6" style="">0.015</text>
<text x="525" y="202.8" font-size="5.5" text-anchor="middle" font-family='"Liberation Sans", sans-serif' font-weight="bold"  style="">[s]</text>
<text x="635.7" y="195.8" font-size="6" text-anchor="start" font-family='"Liberation Sans", sans-serif' font-weight="bold" letter-spacing="0.6" style="">0.0</text>
<text x="0" y="0" font-size="6.6" font-weight="bold" font-family='"Liberation Sans", sans-serif' text-anchor="middle" transform="translate(388 122.4) rotate(-90)">3 level PWM</text>
<text x="476.5" y="218.3" font-size="10.5" text-anchor="start" font-family='"Liberation Sans", sans-serif' font-weight="normal"  style="">b)</text>
<rect x="124.5" y="319.5" width="17" height="17" fill="none" stroke="#000" stroke-width="1"/>
<text x="133" y="330.6" font-size="9" text-anchor="middle" font-family='"Liberation Sans", sans-serif' font-weight="normal" stroke="#000" stroke-width="0.2" style="">1</text>
<path d="M141.5 328.5 L165.5 328.5" fill="none" stroke="#000" stroke-width="1" />
<path d="M170 328.5 L163 325 L163.7 328.5 L163 332 Z" fill="#000"/>
<circle cx="158.3" cy="328.1" r="1.2" fill="#000"/>
<path d="M158.5 328.5 L158.5 354.5 L137.5 354.5 L137.5 370.5 L144.5 370.5" fill="none" stroke="#000" stroke-width="1" />
<path d="M149 370.5 L142 367 L142.7 370.5 L142 374 Z" fill="#000"/>
<rect x="171.5" y="319.5" width="21" height="17" fill="none" stroke="#000" stroke-width="1"/>
<path d="M181.5 320.5 L181.5 335.8" fill="none" stroke="#777" stroke-width="0.8" />
<path d="M172.9 328.5 L191 328.5" fill="none" stroke="#bbb" stroke-width="0.6" />
<rect x="179.5" y="325.5" width="4" height="7" fill="none" stroke="#000" stroke-width="0.9"/>
<path d="M183.5 325.5 L190.5 325.5" fill="none" stroke="#000" stroke-width="0.9" />
<path d="M173.5 332.5 L179.5 332.5" fill="none" stroke="#000" stroke-width="0.9" />
<path d="M192.5 328.5 L211.5 328.5" fill="none" stroke="#000" stroke-width="1" />
<path d="M217 328.5 L210 325 L210.7 328.5 L210 332 Z" fill="#000"/>
<rect x="217.5" y="320.5" width="17" height="33" fill="none" stroke="#000" stroke-width="1"/>
<text x="226" y="339.5" font-size="8" text-anchor="middle" font-family='"Liberation Sans", sans-serif' font-weight="normal" stroke="#000" stroke-width="0.25" style="">Mux</text>
<rect x="149.5" y="362.5" width="22" height="17" fill="none" stroke="#000" stroke-width="1"/>
<text x="160.3" y="374" font-size="8" text-anchor="middle" font-family='"Liberation Sans", sans-serif' font-weight="normal" stroke="#000" stroke-width="0.25" style="">du/dt</text>
<path d="M171.5 370.5 L178.5 370.5" fill="none" stroke="#000" stroke-width="1" />
<path d="M183 370.5 L176 367 L176.7 370.5 L176 374 Z" fill="#000"/>
<rect x="183.5" y="362.5" width="17" height="17" fill="none" stroke="#000" stroke-width="1"/>
<path d="M191.5 363.3 L191.5 378.4" fill="none" stroke="#777" stroke-width="0.8" />
<path d="M184.9 370.5 L199 370.5" fill="none" stroke="#bbb" stroke-width="0.6" />
<rect x="189.5" y="367.5" width="3" height="7" fill="none" stroke="#000" stroke-width="0.9"/>
<path d="M192.5 367.5 L198.5 367.5" fill="none" stroke="#000" stroke-width="0.9" />
<path d="M185.5 374.5 L189.5 374.5" fill="none" stroke="#000" stroke-width="0.9" />
<path d="M200.5 370.5 L204.5 370.5 L204.5 345.5 L211.5 345.5" fill="none" stroke="#000" stroke-width="1" />
<path d="M217 345.5 L210 342 L210.7 345.5 L210 349 Z" fill="#000"/>
<path d="M234.5 336.5 L250.5 336.5" fill="none" stroke="#000" stroke-width="1" />
<path d="M255 336.5 L248 333 L248.7 336.5 L248 340 Z" fill="#000"/>
<rect x="255.5" y="324.5" width="26" height="25" fill="none" stroke="#000" stroke-width="1"/>
<text x="268.5" y="339.5" font-size="8.5" text-anchor="middle" font-family='"Liberation Sans", sans-serif' font-weight="normal" stroke="#000" stroke-width="0.25" style="">f(u)</text>
<path d="M281.5 336.5 L301.5 336.5" fill="none" stroke="#000" stroke-width="1" />
<path d="M306 336.5 L299 333 L299.7 336.5 L299 340 Z" fill="#000"/>
<rect x="306.5" y="332.5" width="17" height="16" fill="none" stroke="#000" stroke-width="1"/>
<path d="M310.2 336.8 L314.8 336.8" fill="none" stroke="#000" stroke-width="1" />
<path d="M312.5 334.5 L312.5 339.1" fill="none" stroke="#000" stroke-width="1" />
<path d="M310.2 345.3 L314.8 345.3" fill="none" stroke="#000" stroke-width="1" />
<path d="M312.5 343 L312.5 347.6" fill="none" stroke="#000" stroke-width="1" />
<path d="M323.5 340.5 L326.5 340.5" fill="none" stroke="#000" stroke-width="1" />
<path d="M331 340.5 L324 337 L324.7 340.5 L324 344 Z" fill="#000"/>
<rect x="331.5" y="332.5" width="21" height="16" fill="none" stroke="#000" stroke-width="1"/>
<path d="M341.5 333.5 L341.5 347.5" fill="none" stroke="#555" stroke-width="1.4" />
<path d="M332.5 340.5 L351.5 340.5" fill="none" stroke="#000" stroke-width="0.8" />
<path d="M333.2 345.56 L337.65 345.56 L346.25 335.54 L350.7 335.54" fill="none" stroke="#000" stroke-width="0.8" />
<path d="M352.5 340.5 L360.5 340.5" fill="none" stroke="#000" stroke-width="1" />
<path d="M365 340.5 L358 337 L358.7 340.5 L358 344 Z" fill="#000"/>
<path d="M357.5 340.5 L357.5 375.5 L329.5 375.5" fill="none" stroke="#000" stroke-width="1" />
<path d="M324 375.5 L331 372 L330.3 375.5 L331 379 Z" fill="#000"/>
<rect x="298.5" y="365.5" width="25" height="20" fill="none" stroke="#000" stroke-width="1"/>
<path d="M305.5 380.5 L305.5 370.5 L317.5 370.5 L317.5 380.5 L312.5 380.5" fill="none" stroke="#000" stroke-width="0.9" />
<path d="M298.5 375.5 L294.5 375.5 L294.5 345.5 L301.5 345.5" fill="none" stroke="#000" stroke-width="1" />
<path d="M306 345.5 L299 342 L299.7 345.5 L299 349 Z" fill="#000"/>
<rect x="365.5" y="332.5" width="17" height="17" fill="none" stroke="#000" stroke-width="1"/>
<text x="374" y="344.3" font-size="9" text-anchor="middle" font-family='"Liberation Sans", sans-serif' font-weight="normal" stroke="#000" stroke-width="0.3" style="">1</text>
<text x="133.2" y="345.2" font-size="7.3" text-anchor="middle" font-family='"Liberation Sans", sans-serif' font-weight="normal"  letter-spacing="0.4" stroke="#000" stroke-width="0.12" style="">S(ext,1)</text>
<text x="182" y="345.2" font-size="7.3" text-anchor="middle" font-family='"Liberation Sans", sans-serif' font-weight="normal"  letter-spacing="0.4" stroke="#000" stroke-width="0.12" style="">-eps;+eps</text>
<text x="182" y="353.7" font-size="7.3" text-anchor="middle" font-family='"Liberation Sans", sans-serif' font-weight="normal"  letter-spacing="0.4" stroke="#000" stroke-width="0.12" style="">out:+1-1</text>
<text x="225.9" y="361.3" font-size="7.3" text-anchor="middle" font-family='"Liberation Sans", sans-serif' font-weight="normal"  letter-spacing="0.4" stroke="#000" stroke-width="0.12" style="">Mux3</text>
<text x="160.5" y="388.5" font-size="7.3" text-anchor="middle" font-family='"Liberation Sans", sans-serif' font-weight="normal"  letter-spacing="0.4" stroke="#000" stroke-width="0.12" style="">dS/dt</text>
<text x="192.7" y="387.9" font-size="7.3" text-anchor="middle" font-family='"Liberation Sans", sans-serif' font-weight="normal"  letter-spacing="0.4" stroke="#000" stroke-width="0.12" style="">-eps;+eps</text>
<text x="192.7" y="395.1" font-size="7.3" text-anchor="middle" font-family='"Liberation Sans", sans-serif' font-weight="normal"  letter-spacing="0.4" stroke="#000" stroke-width="0.12" style="">out:+1-1</text>
<text x="267.9" y="358.3" font-size="7.3" text-anchor="middle" font-family='"Liberation Sans", sans-serif' font-weight="normal"  letter-spacing="0.4" stroke="#000" stroke-width="0.12" style="">(u[1]*u[2]&gt;0)*</text>
<text x="271.4" y="366.4" font-size="7.3" text-anchor="middle" font-family='"Liberation Sans", sans-serif' font-weight="normal"  letter-spacing="0.4" stroke="#000" stroke-width="0.12" style="">*2-1</text>
<text x="315.7" y="358.3" font-size="7.3" text-anchor="middle" font-family='"Liberation Sans", sans-serif' font-weight="normal"  letter-spacing="0.4" stroke="#000" stroke-width="0.12" style="">s</text>
<text x="342.9" y="358.3" font-size="7.3" text-anchor="middle" font-family='"Liberation Sans", sans-serif' font-weight="normal"  letter-spacing="0.4" stroke="#000" stroke-width="0.12" style="">±(n-1)/2</text>
<text x="374.1" y="357.8" font-size="7.3" text-anchor="middle" font-family='"Liberation Sans", sans-serif' font-weight="normal"  letter-spacing="0.4" stroke="#000" stroke-width="0.12" style="">gama</text>
<text x="310.2" y="393.5" font-size="7.3" text-anchor="middle" font-family='"Liberation Sans", sans-serif' font-weight="normal"  letter-spacing="0.4" stroke="#000" stroke-width="0.12" style="">Memory</text>
<text x="242.8" y="413.5" font-size="11.5" text-anchor="start" font-family='"Liberation Serif", serif' font-weight="normal" stroke="#000" stroke-width="0.4" style="">a)</text>
<rect x="443.5" y="316.5" width="13" height="14" fill="none" stroke="#000" stroke-width="1"/>
<text x="450.2" y="327" font-size="8.5" text-anchor="middle" font-family='"Liberation Sans", sans-serif' font-weight="normal" stroke="#000" stroke-width="0.3" style="">1</text>
<path d="M456.5 323.5 L460.5 323.5" fill="none" stroke="#000" stroke-width="1" />
<path d="M460.5 272.5 L460.5 374.5" fill="none" stroke="#000" stroke-width="1" />
<rect x="487.5" y="265.5" width="17" height="14" fill="none" stroke="#000" stroke-width="1"/>
<path d="M495.5 266.5 L495.5 278.3" fill="none" stroke="#777" stroke-width="0.8" />
<path d="M488.7 272.5 L503.2 272.5" fill="none" stroke="#bbb" stroke-width="0.6" />
<rect x="493.5" y="269.5" width="4" height="6" fill="none" stroke="#000" stroke-width="0.9"/>
<path d="M497.5 269.5 L502.5 269.5" fill="none" stroke="#000" stroke-width="0.9" />
<path d="M489.5 275.5 L493.5 275.5" fill="none" stroke="#000" stroke-width="0.9" />
<path d="M460.5 272.5 L482.5 272.5" fill="none" stroke="#000" stroke-width="1" />
<path d="M487 272.5 L480 269 L480.7 272.5 L480 276 Z" fill="#000"/>
<path d="M504.5 272.5 L535.5 272.5 L535.5 303.5 L540.5 303.5" fill="none" stroke="#000" stroke-width="1" />
<path d="M546 303.5 L539 300 L539.7 303.5 L539 307 Z" fill="#000"/>
<text x="494.9" y="287.6" font-size="7.3" text-anchor="middle" font-family='"Liberation Sans", sans-serif' font-weight="normal"  letter-spacing="0.4" stroke="#000" stroke-width="0.12" style="">-1.3eps;-1.3eps</text>
<text x="494.9" y="295.2" font-size="7.3" text-anchor="middle" font-family='"Liberation Sans", sans-serif' font-weight="normal"  letter-spacing="0.4" stroke="#000" stroke-width="0.12" style="">out:-0.5,+0.5</text>
<rect x="487.5" y="299.5" width="17" height="14" fill="none" stroke="#000" stroke-width="1"/>
<path d="M495.5 300.5 L495.5 312.3" fill="none" stroke="#777" stroke-width="0.8" />
<path d="M488.7 306.5 L503.2 306.5" fill="none" stroke="#bbb" stroke-width="0.6" />
<rect x="493.5" y="303.5" width="4" height="6" fill="none" stroke="#000" stroke-width="0.9"/>
<path d="M497.5 303.5 L502.5 303.5" fill="none" stroke="#000" stroke-width="0.9" />
<path d="M489.5 309.5 L493.5 309.5" fill="none" stroke="#000" stroke-width="0.9" />
<path d="M460.5 306.5 L482.5 306.5" fill="none" stroke="#000" stroke-width="1" />
<path d="M487 306.5 L480 303 L480.7 306.5 L480 310 Z" fill="#000"/>
<path d="M504.5 306.5 L528.5 306.5 L528.5 313.5 L540.5 313.5" fill="none" stroke="#000" stroke-width="1" />
<path d="M546 313.5 L539 310 L539.7 313.5 L539 317 Z" fill="#000"/>
<text x="494.9" y="321" font-size="7.3" text-anchor="middle" font-family='"Liberation Sans", sans-serif' font-weight="normal"  letter-spacing="0.4" stroke="#000" stroke-width="0.12" style="">-1.2eps;-1.2eps</text>
<text x="494.9" y="329" font-size="7.3" text-anchor="middle" font-family='"Liberation Sans", sans-serif' font-weight="normal"  letter-spacing="0.4" stroke="#000" stroke-width="0.12" style="">out:-0.5,+0.5</text>
<rect x="487.5" y="333.5" width="17" height="14" fill="none" stroke="#000" stroke-width="1"/>
<path d="M495.5 334.6 L495.5 346.4" fill="none" stroke="#777" stroke-width="0.8" />
<path d="M488.7 340.5 L503.2 340.5" fill="none" stroke="#bbb" stroke-width="0.6" />
<rect x="493.5" y="337.5" width="4" height="6" fill="none" stroke="#000" stroke-width="0.9"/>
<path d="M497.5 337.5 L502.5 337.5" fill="none" stroke="#000" stroke-width="0.9" />
<path d="M489.5 343.5 L493.5 343.5" fill="none" stroke="#000" stroke-width="0.9" />
<path d="M460.5 340.5 L482.5 340.5" fill="none" stroke="#000" stroke-width="1" />
<path d="M487 340.5 L480 337 L480.7 340.5 L480 344 Z" fill="#000"/>
<path d="M504.5 340.5 L531.5 340.5 L531.5 323.5 L540.5 323.5" fill="none" stroke="#000" stroke-width="1" />
<path d="M546 323.5 L539 320 L539.7 323.5 L539 327 Z" fill="#000"/>
<text x="494.9" y="356" font-size="7.3" text-anchor="middle" font-family='"Liberation Sans", sans-serif' font-weight="normal"  letter-spacing="0.4" stroke="#000" stroke-width="0.12" style="">-1.1eps;-1.1eps</text>
<text x="494.9" y="363.8" font-size="7.3" text-anchor="middle" font-family='"Liberation Sans", sans-serif' font-weight="normal"  letter-spacing="0.4" stroke="#000" stroke-width="0.12" style="">out:-0.5,+0.5</text>
<rect x="487.5" y="368.5" width="17" height="13" fill="none" stroke="#000" stroke-width="1"/>
<path d="M495.5 369.1 L495.5 380.9" fill="none" stroke="#777" stroke-width="0.8" />
<path d="M488.7 375.5 L503.2 375.5" fill="none" stroke="#bbb" stroke-width="0.6" />
<rect x="493.5" y="372.5" width="4" height="6" fill="none" stroke="#000" stroke-width="0.9"/>
<path d="M497.5 372.5 L502.5 372.5" fill="none" stroke="#000" stroke-width="0.9" />
<path d="M489.5 378.5 L493.5 378.5" fill="none" stroke="#000" stroke-width="0.9" />
<path d="M460.5 374.5 L482.5 374.5" fill="none" stroke="#000" stroke-width="1" />
<path d="M487 374.5 L480 371 L480.7 374.5 L480 378 Z" fill="#000"/>
<path d="M504.5 374.5 L535.5 374.5 L535.5 334.5 L540.5 334.5" fill="none" stroke="#000" stroke-width="1" />
<path d="M546 334.5 L539 331 L539.7 334.5 L539 338 Z" fill="#000"/>
<text x="494.9" y="389.7" font-size="7.3" text-anchor="middle" font-family='"Liberation Sans", sans-serif' font-weight="normal"  letter-spacing="0.4" stroke="#000" stroke-width="0.12" style="">-eps;+eps</text>
<text x="494.9" y="397.6" font-size="7.3" text-anchor="middle" font-family='"Liberation Sans", sans-serif' font-weight="normal"  letter-spacing="0.4" stroke="#000" stroke-width="0.12" style="">out:-0.5,+0.5</text>
<rect x="545.5" y="295.5" width="13" height="46" fill="none" stroke="#000" stroke-width="1"/>
<path d="M549.3 303.6 L553.7 303.6" fill="none" stroke="#000" stroke-width="1" />
<path d="M551.5 301.4 L551.5 305.8" fill="none" stroke="#000" stroke-width="1" />
<path d="M549.3 314 L553.7 314" fill="none" stroke="#000" stroke-width="1" />
<path d="M551.5 311.8 L551.5 316.2" fill="none" stroke="#000" stroke-width="1" />
<path d="M548.9 324.1 L554.1 324.1" fill="none" stroke="#000" stroke-width="1" />
<path d="M551.5 321.5 L551.5 326.7" fill="none" stroke="#000" stroke-width="1" />
<path d="M548.9 334.9 L554.1 334.9" fill="none" stroke="#000" stroke-width="1" />
<path d="M551.5 332.3 L551.5 337.5" fill="none" stroke="#000" stroke-width="1" />
<path d="M558.5 319.5 L563.5 319.5" fill="none" stroke="#000" stroke-width="1" />
<path d="M568 319.5 L561 316 L561.7 319.5 L561 323 Z" fill="#000"/>
<rect x="568.5" y="313.5" width="14" height="13" fill="none" stroke="#000" stroke-width="1"/>
<text x="575.6" y="323.6" font-size="8.5" text-anchor="middle" font-family='"Liberation Sans", sans-serif' font-weight="normal" stroke="#000" stroke-width="0.3" style="">1</text>
<text x="449.7" y="339" font-size="7.3" text-anchor="middle" font-family='"Liberation Sans", sans-serif' font-weight="normal"  letter-spacing="0.4" stroke="#000" stroke-width="0.12" style="">S(ext,t)</text>
<text x="574.6" y="335.9" font-size="7.3" text-anchor="middle" font-family='"Liberation Sans", sans-serif' font-weight="normal"  letter-spacing="0.4" stroke="#000" stroke-width="0.12" style="">gama</text>
<text x="551.9" y="348.9" font-size="7.3" text-anchor="middle" font-family='"Liberation Sans", sans-serif' font-weight="normal"  letter-spacing="0.4" stroke="#000" stroke-width="0.12" style="">decoder</text>
<text x="486.6" y="412.7" font-size="11.5" text-anchor="start" font-family='"Liberation Serif", serif' font-weight="normal" stroke="#000" stroke-width="0.4" style="">b)</text>
<path d="M117.5 626.5 L262.5 626.5 L262.5 695.5 L117.5 695.5 L117.5 626.5" fill="none" stroke="#000" stroke-width="1.1" />
<path d="M117.5 638.5 L119.5 638.5" fill="none" stroke="#000" stroke-width="0.8" />
<text x="115.3" y="640.6" font-size="7.2" text-anchor="end" font-family='"Liberation Serif", serif' font-weight="normal" stroke="#000" stroke-width="0.15" style="">1</text>
<path d="M117.5 661.5 L119.5 661.5" fill="none" stroke="#000" stroke-width="0.8" />
<text x="115.3" y="664" font-size="7.2" text-anchor="end" font-family='"Liberation Serif", serif' font-weight="normal" stroke="#000" stroke-width="0.15" style="">0</text>
<path d="M117.5 684.5 L119.5 684.5" fill="none" stroke="#000" stroke-width="0.8" />
<text x="115.3" y="687.4" font-size="7.2" text-anchor="end" font-family='"Liberation Serif", serif' font-weight="normal" stroke="#000" stroke-width="0.15" style="">-1</text>
<text x="117.3" y="704.8" font-size="8" text-anchor="middle" font-family='"Liberation Serif", serif' font-weight="normal" stroke="#000" stroke-width="0.2" style="">0.02</text>
<text x="153.6" y="704.8" font-size="8" text-anchor="middle" font-family='"Liberation Serif", serif' font-weight="normal" stroke="#000" stroke-width="0.2" style="">0.025</text>
<text x="189.9" y="704.8" font-size="8" text-anchor="middle" font-family='"Liberation Serif", serif' font-weight="normal" stroke="#000" stroke-width="0.2" style="">0.03</text>
<text x="226.2" y="704.8" font-size="8" text-anchor="middle" font-family='"Liberation Serif", serif' font-weight="normal" stroke="#000" stroke-width="0.2" style="">0.035</text>
<text x="262.5" y="704.8" font-size="8" text-anchor="middle" font-family='"Liberation Serif", serif' font-weight="normal" stroke="#000" stroke-width="0.2" style="">0.04</text>
<text x="190.8" y="714.9" font-size="8" text-anchor="middle" font-family='"Liberation Serif", serif' font-weight="normal" stroke="#000" stroke-width="0.2" style="">time [s]</text>
<text x="0" y="0" font-size="7.3" stroke="#000" stroke-width="0.15" font-family='"Liberation Serif", serif' text-anchor="middle" transform="translate(97.4 660.5) rotate(-90)">Voltage [V]</text>
<path d="M117.3 661.4 L118.75 659.93 L120.2 658.47 L121.66 657.02 L123.11 655.58 L124.56 654.17 L126.01 652.79 L127.46 651.44 L128.92 650.13 L130.37 648.86 L131.82 647.65 L133.27 646.48 L134.72 645.38 L136.18 644.34 L137.63 643.37 L139.08 642.47 L140.53 641.64 L141.98 640.89 L143.44 640.23 L144.89 639.64 L146.34 639.15 L147.79 638.74 L149.24 638.41 L150.7 638.18 L152.15 638.05 L153.6 638 L155.05 638.05 L156.5 638.18 L157.96 638.41 L159.41 638.74 L160.86 639.15 L162.31 639.64 L163.76 640.23 L165.22 640.89 L166.67 641.64 L168.12 642.47 L169.57 643.37 L171.02 644.34 L172.48 645.38 L173.93 646.48 L175.38 647.65 L176.83 648.86 L178.28 650.13 L179.74 651.44 L181.19 652.79 L182.64 654.17 L184.09 655.58 L185.54 657.02 L187 658.47 L188.45 659.93 L189.9 661.4 L191.35 662.87 L192.8 664.33 L194.26 665.78 L195.71 667.22 L197.16 668.63 L198.61 670.01 L200.06 671.36 L201.52 672.67 L202.97 673.94 L204.42 675.15 L205.87 676.32 L207.32 677.42 L208.78 678.46 L210.23 679.43 L211.68 680.33 L213.13 681.16 L214.58 681.91 L216.04 682.57 L217.49 683.16 L218.94 683.65 L220.39 684.06 L221.84 684.39 L223.3 684.62 L224.75 684.75 L226.2 684.8 L227.65 684.75 L229.1 684.62 L230.56 684.39 L232.01 684.06 L233.46 683.65 L234.91 683.16 L236.36 682.57 L237.82 681.91 L239.27 681.16 L240.72 680.33 L242.17 679.43 L243.62 678.46 L245.08 677.42 L246.53 676.32 L247.98 675.15 L249.43 673.94 L250.88 672.67 L252.34 671.36 L253.79 670.01 L255.24 668.63 L256.69 667.22 L258.14 665.78 L259.6 664.33 L261.05 662.87 L262.5 661.4" fill="none" stroke="#000" stroke-width="1.4" />
<path d="M117.3 661.4 L121.66 661.4 L121.66 649.7 L123.83 649.7 L123.83 661.4 L125.65 661.4 L125.65 649.7 L132.18 649.7 L132.18 638 L133.27 638 L133.27 649.7 L136.54 649.7 L136.54 638 L139.44 638 L139.44 649.7 L140.89 649.7 L140.89 638 L145.25 638 L145.25 649.7 L145.61 649.7 L145.61 638 L160.5 638 L160.5 649.7 L160.86 649.7 L160.86 638 L165.22 638 L165.22 649.7 L166.3 649.7 L166.3 638 L169.57 638 L169.57 649.7 L172.48 649.7 L172.48 638 L173.93 638 L173.93 649.7 L180.46 649.7 L180.46 661.4 L181.55 661.4 L181.55 649.7 L184.82 649.7 L184.82 661.4 L188.45 661.4 L188.45 649.7 L188.81 649.7 L188.81 661.4 L190.99 661.4 L190.99 673.1 L191.35 673.1 L191.35 661.4 L195.34 661.4 L195.34 673.1 L197.89 673.1 L197.89 661.4 L199.34 661.4 L199.34 673.1 L205.87 673.1 L205.87 684.8 L207.32 684.8 L207.32 673.1 L210.23 673.1 L210.23 684.8 L213.5 684.8 L213.5 673.1 L214.58 673.1 L214.58 684.8 L218.94 684.8 L218.94 673.1 L219.3 673.1 L219.3 684.8 L234.19 684.8 L234.19 673.1 L234.55 673.1 L234.55 684.8 L238.91 684.8 L238.91 673.1 L240.36 673.1 L240.36 684.8 L243.26 684.8 L243.26 673.1 L246.53 673.1 L246.53 684.8 L247.62 684.8 L247.62 673.1 L254.15 673.1 L254.15 661.4 L255.6 661.4 L255.6 673.1 L258.14 673.1 L258.14 661.4 L262.5 661.4" fill="none" stroke="#000" stroke-width="0.8" stroke-dasharray="2 1.2"/>
<path d="M117.3 661.4 L118.75 660.87 L120.2 660.43 L121.66 660.14 L123.11 660.05 L124.56 660.14 L126.01 660.4 L127.46 660.76 L128.92 661.13 L130.37 661.44 L131.82 661.62 L133.27 661.64 L134.72 661.5 L136.18 661.23 L137.63 660.9 L139.08 660.59 L140.53 660.37 L141.98 660.31 L143.44 660.43 L144.89 660.74 L146.34 661.19 L147.79 661.72 L149.24 662.22 L150.7 662.64 L152.15 662.88 L153.6 662.93 L155.05 662.79 L156.5 662.48 L157.96 662.07 L159.41 661.65 L160.86 661.3 L162.31 661.08 L163.76 661.02 L165.22 661.13 L166.67 661.37 L168.12 661.67 L169.57 661.96 L171.02 662.15 L172.48 662.2 L173.93 662.06 L175.38 661.76 L176.83 661.32 L178.28 660.82 L179.74 660.35 L181.19 659.98 L182.64 659.79 L184.09 659.8 L185.54 660.01 L187 660.37 L188.45 660.83 L189.9 661.3 L191.35 661.69 L192.8 661.94 L194.26 662.01 L195.71 661.92 L197.16 661.7 L198.61 661.4 L200.06 661.12 L201.52 660.93 L202.97 660.87 L204.42 661 L205.87 661.28 L207.32 661.69 L208.78 662.14 L210.23 662.57 L211.68 662.88 L213.13 663.01 L214.58 662.94 L216.04 662.67 L217.49 662.26 L218.94 661.76 L220.39 661.26 L221.84 660.85 L223.3 660.58 L224.75 660.5 L226.2 660.6 L227.65 660.83 L229.1 661.14 L230.56 661.43 L232.01 661.65 L233.46 661.73 L234.91 661.63 L236.36 661.38 L237.82 661.02 L239.27 660.61 L240.72 660.24 L242.17 659.99 L243.62 659.91 L245.08 660.04 L246.53 660.35 L247.98 660.81 L249.43 661.34 L250.88 661.85 L252.34 662.26 L253.79 662.52 L255.24 662.58 L256.69 662.46 L258.14 662.2 L259.6 661.86 L261.05 661.53 L262.5 661.28" fill="none" stroke="#000" stroke-width="0.8" stroke-dasharray="1 1.5" />
<text x="128.5" y="641.5" font-size="9.5" text-anchor="start" font-family='"Liberation Serif", serif' font-weight="normal"  style="font-style:italic">u<tspan font-size="6" dy="1.8">o</tspan></text>
<text x="131" y="658" font-size="9" text-anchor="start" font-family='"Liberation Serif", serif' font-weight="normal"  style="font-style:italic">v<tspan font-size="6" dy="1.8">PWM</tspan><tspan dy="-1.8">,</tspan></text>
<text x="128.5" y="674.5" font-size="11" text-anchor="start" font-family='"Liberation Serif", serif' font-weight="normal"  style="font-style:italic">S(e<tspan font-size="6.5" dy="2">u</tspan><tspan dy="-2">,t)</tspan></text>
<text x="204.5" y="735.2" font-size="11.5" text-anchor="start" font-family='"Liberation Serif", serif' font-weight="normal" stroke="#000" stroke-width="0.4" style="">a)</text>
<path d="M309.5 642.5 L455.5 642.5" fill="none" stroke="#000" stroke-width="0.8" stroke-dasharray="1 1.6" />
<path d="M309.5 660.5 L455.5 660.5" fill="none" stroke="#000" stroke-width="0.8" stroke-dasharray="1 1.6" />
<path d="M309.5 677.5 L455.5 677.5" fill="none" stroke="#000" stroke-width="0.8" stroke-dasharray="1 1.6" />
<path d="M345.5 625.5 L345.5 694.5" fill="none" stroke="#000" stroke-width="0.8" stroke-dasharray="1 1.6" />
<path d="M382.5 625.5 L382.5 694.5" fill="none" stroke="#000" stroke-width="0.8" stroke-dasharray="1 1.6" />
<path d="M418.5 625.5 L418.5 694.5" fill="none" stroke="#000" stroke-width="0.8" stroke-dasharray="1 1.6" />
<path d="M314.5 660.5 L314.5 642.5" fill="none" stroke="#000" stroke-width="0.8" stroke-dasharray="2.2 1.2" />
<path d="M318.5 660.5 L318.5 642.5" fill="none" stroke="#000" stroke-width="0.8" stroke-dasharray="2.2 1.2" />
<path d="M326.5 660.5 L326.5 642.5" fill="none" stroke="#000" stroke-width="0.8" stroke-dasharray="2.2 1.2" />
<path d="M332.5 660.5 L332.5 642.5" fill="none" stroke="#000" stroke-width="0.8" stroke-dasharray="2.2 1.2" />
<path d="M336.5 660.5 L336.5 642.5" fill="none" stroke="#000" stroke-width="0.8" stroke-dasharray="2.2 1.2" />
<path d="M425.5 660.5 L425.5 642.5" fill="none" stroke="#000" stroke-width="0.8" stroke-dasharray="2.2 1.2" />
<path d="M429.5 660.5 L429.5 642.5" fill="none" stroke="#000" stroke-width="0.8" stroke-dasharray="2.2 1.2" />
<path d="M436.5 660.5 L436.5 642.5" fill="none" stroke="#000" stroke-width="0.8" stroke-dasharray="2.2 1.2" />
<path d="M443.5 660.5 L443.5 642.5" fill="none" stroke="#000" stroke-width="0.8" stroke-dasharray="2.2 1.2" />
<path d="M446.5 660.5 L446.5 642.5" fill="none" stroke="#000" stroke-width="0.8" stroke-dasharray="2.2 1.2" />
<path d="M451.5 660.5 L451.5 642.5" fill="none" stroke="#000" stroke-width="0.8" stroke-dasharray="2.2 1.2" />
<path d="M358.5 660.5 L358.5 694.5" fill="none" stroke="#000" stroke-width="0.8" stroke-dasharray="2.2 1.2" />
<path d="M361.5 660.5 L361.5 694.5" fill="none" stroke="#000" stroke-width="0.8" stroke-dasharray="2.2 1.2" />
<path d="M367.5 660.5 L367.5 694.5" fill="none" stroke="#000" stroke-width="0.8" stroke-dasharray="2.2 1.2" />
<path d="M370.5 660.5 L370.5 694.5" fill="none" stroke="#000" stroke-width="0.8" stroke-dasharray="2.2 1.2" />
<path d="M375.5 660.5 L375.5 694.5" fill="none" stroke="#000" stroke-width="0.8" stroke-dasharray="2.2 1.2" />
<path d="M378.5 660.5 L378.5 694.5" fill="none" stroke="#000" stroke-width="0.8" stroke-dasharray="2.2 1.2" />
<path d="M383.5 660.5 L383.5 694.5" fill="none" stroke="#000" stroke-width="0.8" stroke-dasharray="2.2 1.2" />
<path d="M389.5 660.5 L389.5 694.5" fill="none" stroke="#000" stroke-width="0.8" stroke-dasharray="2.2 1.2" />
<path d="M393.5 660.5 L393.5 694.5" fill="none" stroke="#000" stroke-width="0.8" stroke-dasharray="2.2 1.2" />
<path d="M398.5 660.5 L398.5 694.5" fill="none" stroke="#000" stroke-width="0.8" stroke-dasharray="2.2 1.2" />
<path d="M408.5 660.5 L408.5 694.5" fill="none" stroke="#000" stroke-width="0.8" stroke-dasharray="2.2 1.2" />
<path d="M410.5 660.5 L410.5 694.5" fill="none" stroke="#000" stroke-width="0.8" stroke-dasharray="2.2 1.2" />
<path d="M309.5 641.5 L455.5 641.5" fill="none" stroke="#000" stroke-width="0.9" stroke-dasharray="2 1" />
<path d="M309.5 693.5 L455.5 693.5" fill="none" stroke="#000" stroke-width="1.2" stroke-dasharray="2 1" />
<path d="M309.4 633.97 L310.86 634.03 L312.32 634.18 L313.77 634.44 L315.23 634.79 L316.69 635.25 L318.15 635.8 L319.61 636.45 L321.06 637.19 L322.52 638.03 L323.98 638.95 L325.44 639.95 L326.9 641.03 L328.35 642.18 L329.81 643.41 L331.27 644.7 L332.73 646.06 L334.19 647.46 L335.64 648.92 L337.1 650.42 L338.56 651.96 L340.02 653.53 L341.48 655.12 L342.93 656.74 L344.39 658.37 L345.85 660 L347.31 661.63 L348.77 663.26 L350.22 664.88 L351.68 666.47 L353.14 668.04 L354.6 669.58 L356.06 671.08 L357.51 672.54 L358.97 673.94 L360.43 675.3 L361.89 676.59 L363.35 677.82 L364.8 678.97 L366.26 680.05 L367.72 681.05 L369.18 681.97 L370.64 682.81 L372.09 683.55 L373.55 684.2 L375.01 684.75 L376.47 685.21 L377.93 685.56 L379.38 685.82 L380.84 685.97 L382.3 686.03 L383.76 685.97 L385.22 685.82 L386.67 685.56 L388.13 685.21 L389.59 684.75 L391.05 684.2 L392.51 683.55 L393.96 682.81 L395.42 681.97 L396.88 681.05 L398.34 680.05 L399.8 678.97 L401.25 677.82 L402.71 676.59 L404.17 675.3 L405.63 673.94 L407.09 672.54 L408.54 671.08 L410 669.58 L411.46 668.04 L412.92 666.47 L414.38 664.88 L415.83 663.26 L417.29 661.63 L418.75 660 L420.21 658.37 L421.67 656.74 L423.12 655.12 L424.58 653.53 L426.04 651.96 L427.5 650.42 L428.96 648.92 L430.41 647.46 L431.87 646.06 L433.33 644.7 L434.79 643.41 L436.25 642.18 L437.7 641.03 L439.16 639.95 L440.62 638.95 L442.08 638.03 L443.54 637.19 L444.99 636.45 L446.45 635.8 L447.91 635.25 L449.37 634.79 L450.83 634.44 L452.28 634.18 L453.74 634.03 L455.2 633.97" fill="none" stroke="#000" stroke-width="1.4" />
<path d="M309.5 625.5 L455.5 625.5 L455.5 694.5 L309.5 694.5 L309.5 625.5" fill="none" stroke="#000" stroke-width="1.1" />
<text x="307.9" y="628.1" font-size="8" text-anchor="end" font-family='"Liberation Serif", serif' font-weight="normal" stroke="#000" stroke-width="0.2" style="">20</text>
<text x="307.9" y="645.45" font-size="8" text-anchor="end" font-family='"Liberation Serif", serif' font-weight="normal" stroke="#000" stroke-width="0.2" style="">10</text>
<text x="307.9" y="662.8" font-size="8" text-anchor="end" font-family='"Liberation Serif", serif' font-weight="normal" stroke="#000" stroke-width="0.2" style="">0</text>
<text x="307.9" y="680.15" font-size="8" text-anchor="end" font-family='"Liberation Serif", serif' font-weight="normal" stroke="#000" stroke-width="0.2" style="">-10</text>
<text x="307.9" y="697.5" font-size="8" text-anchor="end" font-family='"Liberation Serif", serif' font-weight="normal" stroke="#000" stroke-width="0.2" style="">-20</text>
<text x="309.4" y="702.6" font-size="8.5" text-anchor="middle" font-family='"Liberation Serif", serif' font-weight="normal" stroke="#000" stroke-width="0.2" style="">0.325</text>
<text x="345.85" y="702.6" font-size="8.5" text-anchor="middle" font-family='"Liberation Serif", serif' font-weight="normal" stroke="#000" stroke-width="0.2" style="">0.33</text>
<text x="382.3" y="702.6" font-size="8.5" text-anchor="middle" font-family='"Liberation Serif", serif' font-weight="normal" stroke="#000" stroke-width="0.2" style="">0.335</text>
<text x="418.75" y="702.6" font-size="8.5" text-anchor="middle" font-family='"Liberation Serif", serif' font-weight="normal" stroke="#000" stroke-width="0.2" style="">0.34</text>
<text x="455.2" y="702.6" font-size="8.5" text-anchor="middle" font-family='"Liberation Serif", serif' font-weight="normal" stroke="#000" stroke-width="0.2" style="">0.345</text>
<text x="382" y="714" font-size="8" text-anchor="middle" font-family='"Liberation Serif", serif' font-weight="normal" stroke="#000" stroke-width="0.2" style="">time [s]</text>
<text x="0" y="0" font-size="7.5" stroke="#000" stroke-width="0.25" font-family='"Liberation Serif", serif' text-anchor="middle" transform="translate(291 659.2) rotate(-90)">Voltage [V]</text>
<text x="336" y="640.5" font-size="9.5" text-anchor="start" font-family='"Liberation Serif", serif' font-weight="normal"  style="font-style:italic">u<tspan font-size="6" dy="1.8">C1</tspan></text>
<text x="337.5" y="658" font-size="9" text-anchor="start" font-family='"Liberation Serif", serif' font-weight="normal"  style="font-style:italic">v<tspan font-size="6" dy="1.8">PWM</tspan><tspan dy="-1.8">,</tspan></text>
<text x="325" y="674" font-size="9.5" text-anchor="start" font-family='"Liberation Serif", serif' font-weight="normal"  style="font-style:italic">u<tspan font-size="6" dy="1.8">o</tspan></text>
<text x="324.5" y="690" font-size="9.5" text-anchor="start" font-family='"Liberation Serif", serif' font-weight="normal"  style="font-style:italic">-u<tspan font-size="6" dy="1.8">C2</tspan></text>
<text x="366.5" y="734.7" font-size="11.5" text-anchor="start" font-family='"Liberation Serif", serif' font-weight="normal" stroke="#000" stroke-width="0.4" style="">b)</text>
<path d="M474.5 621.5 L474.5 719.5" fill="none" stroke="#000" stroke-width="1.1" />
<path d="M487.5 621.5 L487.5 719.5" fill="none" stroke="#000" stroke-width="0.9" stroke-dasharray="3 2" />
<path d="M500.5 621.5 L500.5 719.5" fill="none" stroke="#000" stroke-width="1.1" />
<path d="M514.5 621.5 L514.5 719.5" fill="none" stroke="#000" stroke-width="1.1" />
<path d="M527.5 621.5 L527.5 719.5" fill="none" stroke="#000" stroke-width="0.9" stroke-dasharray="3 2" />
<path d="M540.5 621.5 L540.5 719.5" fill="none" stroke="#000" stroke-width="1.1" />
<path d="M554.5 621.5 L554.5 719.5" fill="none" stroke="#000" stroke-width="1.1" />
<path d="M567.5 621.5 L567.5 719.5" fill="none" stroke="#000" stroke-width="0.9" stroke-dasharray="3 2" />
<path d="M580.5 621.5 L580.5 719.5" fill="none" stroke="#000" stroke-width="1.1" />
<path d="M593.5 621.5 L593.5 719.5" fill="none" stroke="#000" stroke-width="1.1" />
<path d="M607.5 621.5 L607.5 719.5" fill="none" stroke="#000" stroke-width="1.1" />
<path d="M474.5 621.5 L607.5 621.5" fill="none" stroke="#000" stroke-width="1.1" />
<path d="M474.5 633.5 L607.5 633.5" fill="none" stroke="#000" stroke-width="1.1" />
<path d="M474.5 645.5 L607.5 645.5" fill="none" stroke="#000" stroke-width="0.9" stroke-dasharray="4 2" />
<path d="M474.5 658.5 L607.5 658.5" fill="none" stroke="#000" stroke-width="1.1" />
<path d="M474.5 670.5 L607.5 670.5" fill="none" stroke="#000" stroke-width="1.1" />
<path d="M474.5 682.5 L607.5 682.5" fill="none" stroke="#000" stroke-width="0.9" stroke-dasharray="4 2" />
<path d="M474.5 694.5 L607.5 694.5" fill="none" stroke="#000" stroke-width="1.1" />
<path d="M474.5 707.5 L607.5 707.5" fill="none" stroke="#000" stroke-width="1.1" />
<path d="M474.5 719.5 L607.5 719.5" fill="none" stroke="#000" stroke-width="1.1" />
<path d="M474.5 664.5 L607.5 664.5" fill="none" stroke="#000" stroke-width="0.9" />
<path d="M474.5 686.5 L607.5 686.5" fill="none" stroke="#000" stroke-width="1.3" />
<path d="M474.4 643.05 L474.9 642.81 L475.4 642.58 L475.9 642.35 L476.4 642.13 L476.9 641.91 L477.4 641.71 L477.9 641.5 L478.4 641.31 L478.9 641.12 L479.4 640.95 L479.9 640.78 L480.4 640.62 L480.9 640.47 L481.4 640.33 L481.9 640.2 L482.4 640.08 L482.9 639.97 L483.4 639.87 L483.9 639.79 L484.4 639.71 L484.9 639.65 L485.4 639.59 L485.9 639.55 L486.4 639.52 L486.9 639.51 L487.4 639.5 L487.9 639.51 L488.4 639.53 L488.9 639.56 L489.4 639.6 L489.9 639.65 L490.4 639.72 L490.9 639.79 L491.4 639.88 L491.9 639.98 L492.4 640.09 L492.9 640.21 L493.4 640.34 L493.9 640.48 L494.4 640.63 L494.9 640.79 L495.4 640.96 L495.9 641.14 L496.4 641.33 L496.9 641.52 L497.4 641.73 L497.9 641.94 L498.4 642.15 L498.9 642.37 L499.4 642.6 L499.9 642.83 L500.4 643.07 L500.9 643.31 L501.4 643.56 L501.9 643.81 L502.4 644.06 L502.9 644.31 L503.4 644.57 L503.9 644.82 L504.4 645.08 L504.9 645.33 L505.4 645.59 L505.9 645.84 L506.4 646.09 L506.9 646.34 L507.4 646.59 L507.9 646.83 L508.4 647.07 L508.9 647.31 L509.4 647.54 L509.9 647.76 L510.4 647.98 L510.9 648.19 L511.4 648.4 L511.9 648.59 L512.4 648.78 L512.9 648.97 L513.4 649.14 L513.9 649.3 L514.4 649.46 L514.9 649.6 L515.4 649.74 L515.9 649.86 L516.4 649.98 L516.9 650.08 L517.4 650.17 L517.9 650.25 L518.4 650.32 L518.9 650.38 L519.4 650.43 L519.9 650.46 L520.4 650.49 L520.9 650.5 L521.4 650.5 L521.9 650.49 L522.4 650.46 L522.9 650.43 L523.4 650.38 L523.9 650.32 L524.4 650.25 L524.9 650.16 L525.4 650.07 L525.9 649.97 L526.4 649.85 L526.9 649.72 L527.4 649.59 L527.9 649.44 L528.4 649.29 L528.9 649.12 L529.4 648.95 L529.9 648.77 L530.4 648.57 L530.9 648.38 L531.4 648.17 L531.9 647.96 L532.4 647.74 L532.9 647.51 L533.4 647.28 L533.9 647.05 L534.4 646.81 L534.9 646.57 L535.4 646.32 L535.9 646.07 L536.4 645.82 L536.9 645.56 L537.4 645.31 L537.9 645.05 L538.4 644.8 L538.9 644.54 L539.4 644.29 L539.9 644.03 L540.4 643.78 L540.9 643.53 L541.4 643.29 L541.9 643.05 L542.4 642.81 L542.9 642.58 L543.4 642.35 L543.9 642.13 L544.4 641.91 L544.9 641.71 L545.4 641.5 L545.9 641.31 L546.4 641.12 L546.9 640.95 L547.4 640.78 L547.9 640.62 L548.4 640.47 L548.9 640.33 L549.4 640.2 L549.9 640.08 L550.4 639.97 L550.9 639.87 L551.4 639.79 L551.9 639.71 L552.4 639.65 L552.9 639.59 L553.4 639.55 L553.9 639.52 L554.4 639.51 L554.9 639.5 L555.4 639.51 L555.9 639.53 L556.4 639.56 L556.9 639.6 L557.4 639.65 L557.9 639.72 L558.4 639.79 L558.9 639.88 L559.4 639.98 L559.9 640.09 L560.4 640.21 L560.9 640.34 L561.4 640.48 L561.9 640.63 L562.4 640.79 L562.9 640.96 L563.4 641.14 L563.9 641.33 L564.4 641.52 L564.9 641.73 L565.4 641.94 L565.9 642.15 L566.4 642.37 L566.9 642.6 L567.4 642.83 L567.9 643.07 L568.4 643.31 L568.9 643.56 L569.4 643.81 L569.9 644.06 L570.4 644.31 L570.9 644.57 L571.4 644.82 L571.9 645.08 L572.4 645.33 L572.9 645.59 L573.4 645.84 L573.9 646.09 L574.4 646.34 L574.9 646.59 L575.4 646.83 L575.9 647.07 L576.4 647.31 L576.9 647.54 L577.4 647.76 L577.9 647.98 L578.4 648.19 L578.9 648.4 L579.4 648.59 L579.9 648.78 L580.4 648.97 L580.9 649.14 L581.4 649.3 L581.9 649.46 L582.4 649.6 L582.9 649.74 L583.4 649.86 L583.9 649.98 L584.4 650.08 L584.9 650.17 L585.4 650.25 L585.9 650.32 L586.4 650.38 L586.9 650.43 L587.4 650.46 L587.9 650.49 L588.4 650.5 L588.9 650.5 L589.4 650.49 L589.9 650.46 L590.4 650.43 L590.9 650.38 L591.4 650.32 L591.9 650.25 L592.4 650.16 L592.9 650.07 L593.4 649.97 L593.9 649.85 L594.4 649.72 L594.9 649.59 L595.4 649.44 L595.9 649.29 L596.4 649.12 L596.9 648.95 L597.4 648.77 L597.9 648.57 L598.4 648.38 L598.9 648.17 L599.4 647.96 L599.9 647.74 L600.4 647.51 L600.9 647.28 L601.4 647.05 L601.9 646.81 L602.4 646.57 L602.9 646.32 L603.4 646.07 L603.9 645.82 L604.4 645.56 L604.9 645.31 L605.4 645.05 L605.9 644.8 L606.4 644.54 L606.9 644.29" fill="none" stroke="#000" stroke-width="0.9" />
<path d="M478.5 658.5 L478.5 686.5" fill="none" stroke="#000" stroke-width="1.1" />
<path d="M480.5 658.5 L480.5 686.5" fill="none" stroke="#000" stroke-width="1.1" />
<path d="M482.5 658.5 L482.5 686.5" fill="none" stroke="#000" stroke-width="1.1" />
<path d="M484.5 658.5 L484.5 686.5" fill="none" stroke="#000" stroke-width="1.1" />
<path d="M487.5 658.5 L487.5 686.5" fill="none" stroke="#000" stroke-width="1.1" />
<path d="M489.5 658.5 L489.5 686.5" fill="none" stroke="#000" stroke-width="1.1" />
<path d="M491.5 658.5 L491.5 686.5" fill="none" stroke="#000" stroke-width="1.1" />
<path d="M493.5 658.5 L493.5 686.5" fill="none" stroke="#000" stroke-width="1.1" />
<path d="M496.5 658.5 L496.5 686.5" fill="none" stroke="#000" stroke-width="1.1" />
<path d="M498.5 658.5 L498.5 686.5" fill="none" stroke="#000" stroke-width="1.1" />
<path d="M500.5 658.5 L500.5 686.5" fill="none" stroke="#000" stroke-width="1.1" />
<path d="M503.5 658.5 L503.5 686.5" fill="none" stroke="#000" stroke-width="1.1" />
<path d="M541.5 658.5 L541.5 686.5" fill="none" stroke="#000" stroke-width="1.1" />
<path d="M543.5 658.5 L543.5 686.5" fill="none" stroke="#000" stroke-width="1.1" />
<path d="M545.5 658.5 L545.5 686.5" fill="none" stroke="#000" stroke-width="1.1" />
<path d="M548.5 658.5 L548.5 686.5" fill="none" stroke="#000" stroke-width="1.1" />
<path d="M550.5 658.5 L550.5 686.5" fill="none" stroke="#000" stroke-width="1.1" />
<path d="M553.5 658.5 L553.5 686.5" fill="none" stroke="#000" stroke-width="1.1" />
<path d="M555.5 658.5 L555.5 686.5" fill="none" stroke="#000" stroke-width="1.1" />
<path d="M558.5 658.5 L558.5 686.5" fill="none" stroke="#000" stroke-width="1.1" />
<path d="M560.5 658.5 L560.5 686.5" fill="none" stroke="#000" stroke-width="1.1" />
<path d="M563.5 658.5 L563.5 686.5" fill="none" stroke="#000" stroke-width="1.1" />
<path d="M565.5 658.5 L565.5 686.5" fill="none" stroke="#000" stroke-width="1.1" />
<path d="M568.5 658.5 L568.5 686.5" fill="none" stroke="#000" stroke-width="1.1" />
<path d="M508.5 664.5 L508.5 672.5" fill="none" stroke="#000" stroke-width="0.9" />
<path d="M511.5 664.5 L511.5 672.5" fill="none" stroke="#000" stroke-width="0.9" />
<path d="M514.5 664.5 L514.5 672.5" fill="none" stroke="#000" stroke-width="0.9" />
<path d="M517.5 664.5 L517.5 672.5" fill="none" stroke="#000" stroke-width="0.9" />
<path d="M520.5 664.5 L520.5 672.5" fill="none" stroke="#000" stroke-width="0.9" />
<path d="M524.5 664.5 L524.5 672.5" fill="none" stroke="#000" stroke-width="0.9" />
<path d="M527.5 664.5 L527.5 672.5" fill="none" stroke="#000" stroke-width="0.9" />
<path d="M530.5 664.5 L530.5 672.5" fill="none" stroke="#000" stroke-width="0.9" />
<path d="M533.5 664.5 L533.5 672.5" fill="none" stroke="#000" stroke-width="0.9" />
<path d="M537.5 664.5 L537.5 672.5" fill="none" stroke="#000" stroke-width="0.9" />
<path d="M574.5 664.5 L574.5 672.5" fill="none" stroke="#000" stroke-width="0.9" />
<path d="M576.5 664.5 L576.5 672.5" fill="none" stroke="#000" stroke-width="0.9" />
<path d="M579.5 664.5 L579.5 672.5" fill="none" stroke="#000" stroke-width="0.9" />
<path d="M582.5 664.5 L582.5 672.5" fill="none" stroke="#000" stroke-width="0.9" />
<path d="M585.5 664.5 L585.5 672.5" fill="none" stroke="#000" stroke-width="0.9" />
<path d="M588.5 664.5 L588.5 672.5" fill="none" stroke="#000" stroke-width="0.9" />
<path d="M591.5 664.5 L591.5 672.5" fill="none" stroke="#000" stroke-width="0.9" />
<path d="M594.5 664.5 L594.5 672.5" fill="none" stroke="#000" stroke-width="0.9" />
<path d="M597.5 664.5 L597.5 672.5" fill="none" stroke="#000" stroke-width="0.9" />
<path d="M600.5 664.5 L600.5 672.5" fill="none" stroke="#000" stroke-width="0.9" />
<path d="M510.5 686.5 L510.5 707.5" fill="none" stroke="#000" stroke-width="1.1" />
<path d="M512.5 686.5 L512.5 707.5" fill="none" stroke="#000" stroke-width="1.1" />
<path d="M514.5 686.5 L514.5 707.5" fill="none" stroke="#000" stroke-width="1.1" />
<path d="M517.5 686.5 L517.5 707.5" fill="none" stroke="#000" stroke-width="1.1" />
<path d="M519.5 686.5 L519.5 707.5" fill="none" stroke="#000" stroke-width="1.1" />
<path d="M522.5 686.5 L522.5 707.5" fill="none" stroke="#000" stroke-width="1.1" />
<path d="M524.5 686.5 L524.5 707.5" fill="none" stroke="#000" stroke-width="1.1" />
<path d="M527.5 686.5 L527.5 707.5" fill="none" stroke="#000" stroke-width="1.1" />
<path d="M529.5 686.5 L529.5 707.5" fill="none" stroke="#000" stroke-width="1.1" />
<path d="M532.5 686.5 L532.5 707.5" fill="none" stroke="#000" stroke-width="1.1" />
<path d="M534.5 686.5 L534.5 707.5" fill="none" stroke="#000" stroke-width="1.1" />
<path d="M537.5 686.5 L537.5 707.5" fill="none" stroke="#000" stroke-width="1.1" />
<path d="M575.5 686.5 L575.5 707.5" fill="none" stroke="#000" stroke-width="1.1" />
<path d="M577.5 686.5 L577.5 707.5" fill="none" stroke="#000" stroke-width="1.1" />
<path d="M579.5 686.5 L579.5 707.5" fill="none" stroke="#000" stroke-width="1.1" />
<path d="M581.5 686.5 L581.5 707.5" fill="none" stroke="#000" stroke-width="1.1" />
<path d="M584.5 686.5 L584.5 707.5" fill="none" stroke="#000" stroke-width="1.1" />
<path d="M586.5 686.5 L586.5 707.5" fill="none" stroke="#000" stroke-width="1.1" />
<path d="M588.5 686.5 L588.5 707.5" fill="none" stroke="#000" stroke-width="1.1" />
<path d="M590.5 686.5 L590.5 707.5" fill="none" stroke="#000" stroke-width="1.1" />
<path d="M593.5 686.5 L593.5 707.5" fill="none" stroke="#000" stroke-width="1.1" />
<path d="M595.5 686.5 L595.5 707.5" fill="none" stroke="#000" stroke-width="1.1" />
<path d="M597.5 686.5 L597.5 707.5" fill="none" stroke="#000" stroke-width="1.1" />
<path d="M600.5 686.5 L600.5 707.5" fill="none" stroke="#000" stroke-width="1.1" />
<text x="476" y="625" font-size="4.6" text-anchor="start" font-family='"Liberation Sans", sans-serif' font-weight="bold"  style="">Ch1 4V</text>
<text x="476" y="629.5" font-size="4.6" text-anchor="start" font-family='"Liberation Sans", sans-serif' font-weight="bold"  style="">2d Ptrg</text>
<text x="503" y="625" font-size="4.6" text-anchor="start" font-family='"Liberation Sans", sans-serif' font-weight="bold"  style="">Ch1 4V</text>
<text x="503" y="629.5" font-size="4.6" text-anchor="start" font-family='"Liberation Sans", sans-serif' font-weight="bold"  style="">2d Ptrg</text>
<text x="529" y="625" font-size="4.6" text-anchor="start" font-family='"Liberation Sans", sans-serif' font-weight="bold"  style="">Ch1 4V</text>
<text x="529" y="629.5" font-size="4.6" text-anchor="start" font-family='"Liberation Sans", sans-serif' font-weight="bold"  style="">2d Ptrg</text>
<text x="556" y="625" font-size="4.6" text-anchor="start" font-family='"Liberation Sans", sans-serif' font-weight="bold"  style="">Ch1 4V</text>
<text x="556" y="629.5" font-size="4.6" text-anchor="start" font-family='"Liberation Sans", sans-serif' font-weight="bold"  style="">2d Ptrg</text>
<text x="586" y="625" font-size="4.6" text-anchor="start" font-family='"Liberation Sans", sans-serif' font-weight="bold"  style="">Ch1 4V</text>
<text x="586" y="629.5" font-size="4.6" text-anchor="start" font-family='"Liberation Sans", sans-serif' font-weight="bold"  style="">2d Ptrg</text>
<text x="502.5" y="641.5" font-size="9.5" text-anchor="start" font-family='"Liberation Serif", serif' font-weight="normal" stroke="#000" stroke-width="0.2" style="font-style:italic">v<tspan font-size="6" dy="1.5">power</tspan></text>
<text x="505" y="663" font-size="5" text-anchor="start" font-family='"Liberation Sans", sans-serif' font-weight="normal"  style="">P</text>
<text x="506" y="685" font-size="5" text-anchor="start" font-family='"Liberation Sans", sans-serif' font-weight="normal"  style="">Ucc/2</text>
<text x="503" y="701" font-size="6" text-anchor="start" font-family='"Liberation Sans", sans-serif' font-weight="normal"  style="">u<tspan font-size="4" dy="1">o</tspan></text>
<text x="530" y="734.3" font-size="11.5" text-anchor="start" font-family='"Liberation Serif", serif' font-weight="normal" stroke="#000" stroke-width="0.4" style="">c)</text>
</svg>
<div class="t" style="left:64.8px;top:39.57px;font-size:11.5px;font-family:'Liberation Serif', serif;font-style:italic">19</div>
<div class="t" style="left:87.2px;top:39.33px;font-size:11.78px;font-family:'Liberation Serif', serif;font-style:italic">Control Methods for Power Converters</div>
<div class="t" style="left:628.5px;top:39.22px;font-size:11.2px;font-family:'Liberation Serif', serif;font-weight:bold">475</div>
<div class="t" style="left:152.9px;top:229.43px;font-size:9.75px;font-family:'Liberation Serif', serif;"><b style="font-size:9px">FIGURE 19.52</b></div>
<div class="t" style="left:220.3px;top:229.46px;font-size:9.72px;font-family:'Liberation Serif', serif;">(a) Three-level SWPWM modulator schematic; (b) main three-level SWPWM signals.</div>
<div class="t" style="left:65px;top:422.63px;font-size:9.75px;font-family:'Liberation Serif', serif;word-spacing:0.932px;"><b style="font-size:9px">FIGURE 19.53</b>&nbsp;&nbsp;&nbsp; (a) Multilevel sliding-mode PWM modulator with <i>n</i>-level hysteresis comparator of quantization interval <i>ε</i>; (b) a four hysterisis</div>
<div class="t" style="left:65px;top:434.23px;font-size:9.75px;font-family:'Liberation Serif', serif;">comparator implementation of a five-level switching law.</div>
<div class="t" style="left:79px;top:481.32px;font-size:11.2px;font-family:'Liberation Serif', serif;word-spacing:1.670px;">This switching law can be implemented as depicted in</div>
<div class="t" style="left:79px;top:494.12px;font-size:11.2px;font-family:'Liberation Serif', serif;">Fig. 19.53.</div>
<div class="t" style="left:79px;top:520.32px;font-size:11.2px;font-family:'Liberation Serif', serif;word-spacing:0.053px;">Control of the Output Voltage in Single-Phase Multilevel</div>
<div class="t" style="left:79px;top:532.62px;font-size:11.2px;font-family:'Liberation Serif', serif;">Converters</div>
<div class="t" style="left:79px;top:548.62px;font-size:11.2px;font-family:'Liberation Serif', serif;word-spacing:4.371px;">To control the inverter output voltage, in a closed</div>
<div class="t" style="left:79px;top:561.92px;font-size:11.2px;font-family:'Liberation Serif', serif;word-spacing:5.177px;">loop, in diode-clamped multilevel inverters with <i>n</i></div>
<div class="t" style="left:79px;top:575.22px;font-size:11.2px;font-family:'Liberation Serif', serif;word-spacing:1.731px;">levels and supply voltage <i>U</i><sub>cc</sub>, a control law similar to</div>
<div class="t" style="left:375.6px;top:481.62px;font-size:11.2px;font-family:'Liberation Serif', serif;word-spacing:-0.084px;letter-spacing:0.45px;">(19.116), <i>S</i>(<i>e</i><sub><i>u</i><sub>o</sub></sub>, <i>t</i>)&#8201;=&#8201;<i>κ</i>&#8202;<span style="font-size:1.15em">∫</span>(<i>u</i><sub><i>o</i><sub>r</sub></sub>&#8201;−&#8201;<i>k</i><sub><i>v</i></sub><i>y</i>(<i>t</i><sub><i>k</i></sub>)<i>U</i><sub><i>cc</i></sub>/(<i>n</i>&#8201;−&#8201;1))d<i>t</i>&#8201;=&#8201;0,</div>
<div class="t" style="left:375.6px;top:493.12px;font-size:11.2px;font-family:'Liberation Serif', serif;">is suitable.</div>
<div class="t" style="left:387px;top:506.82px;font-size:11.2px;font-family:'Liberation Serif', serif;word-spacing:2.383px;">Figure 19.54a shows the waveforms of a five-level</div>
<div class="t" style="left:375.6px;top:520.32px;font-size:11.2px;font-family:'Liberation Serif', serif;word-spacing:6.075px;">sliding-mode controlled inverter, namely the input</div>
<div class="t" style="left:375.6px;top:533.62px;font-size:11.2px;font-family:'Liberation Serif', serif;word-spacing:1.484px;">sinus voltage, the generated output staircase wave, and</div>
<div class="t" style="left:375.6px;top:547.42px;font-size:11.2px;font-family:'Liberation Serif', serif;word-spacing:4.143px;">the sliding-surface instantaneous error. This error is</div>
<div class="t" style="left:375.6px;top:560.82px;font-size:11.2px;font-family:'Liberation Serif', serif;word-spacing:2.582px;">always within a band centered around the zero value</div>
<div class="t" style="left:375.6px;top:574.62px;font-size:11.2px;font-family:'Liberation Serif', serif;word-spacing:1.288px;">and presents zero mean value, which is not the case of</div>
<div class="t" style="left:65.3px;top:742.83px;font-size:9.75px;font-family:'Liberation Serif', serif;word-spacing:1.076px;"><b style="font-size:9px">FIGURE 19.54</b>&nbsp;&nbsp;&nbsp; (a) Scaled waveforms of a five-level sliding-mode controlled single-phase converter, showing the input sinus voltage <i>v</i><sub><i>PWM</i></sub>, the</div>
<div class="t" style="left:65.3px;top:755.63px;font-size:9.75px;font-family:'Liberation Serif', serif;word-spacing:0.204px;">generated output staircase wave <i>u</i><sub><i>o</i></sub>, and the value of the sliding surface <i>S</i>(<i>e</i><sub><i>u</i></sub>, <i>t</i>); (b) scaled waveforms of a three-level neutral-point clamped inverter</div>
<div class="t" style="left:65.3px;top:768.33px;font-size:9.75px;font-family:'Liberation Serif', serif;word-spacing:-0.343px;">showing the capacitor voltage unbalance (shown as two near flat lines touching the tips of the PWM pulses); (c) experimental results from a laboratory</div>
<div class="t" style="left:65.3px;top:781.13px;font-size:9.75px;font-family:'Liberation Serif', serif;">prototype of a three-level single-phase power inverter with the capacitor voltage equalization described.</div>
</body></html>
